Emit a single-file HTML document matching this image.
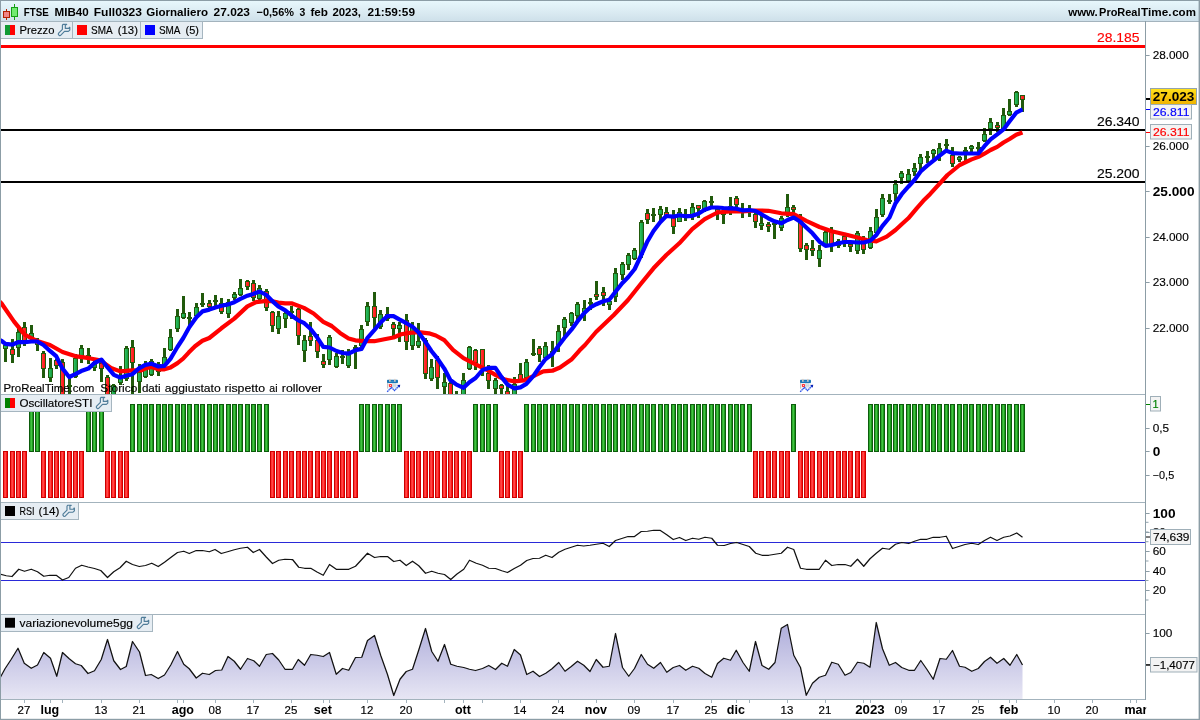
<!DOCTYPE html>
<html><head><meta charset="utf-8"><title>FTSE MIB40</title>
<style>html,body{margin:0;padding:0;background:#fff;width:1200px;height:720px;overflow:hidden}svg{display:block;will-change:transform}</style>
</head><body>
<svg width="1200" height="720" viewBox="0 0 1200 720" font-family='"Liberation Sans", sans-serif' shape-rendering="auto">
<defs>
<linearGradient id="gt" x1="0" y1="0" x2="0" y2="1"><stop offset="0" stop-color="#e8f8fd"/><stop offset="0.5" stop-color="#dcecf3"/><stop offset="1" stop-color="#cddfe9"/></linearGradient>
<linearGradient id="gv" gradientUnits="userSpaceOnUse" x1="0" y1="622" x2="0" y2="699"><stop offset="0" stop-color="#adacda"/><stop offset="1" stop-color="#e7e6f4"/></linearGradient>
<linearGradient id="gg" x1="0" y1="0" x2="1" y2="0"><stop offset="0" stop-color="#2fc261"/><stop offset="1" stop-color="#129a3e"/></linearGradient>
<linearGradient id="gr" x1="0" y1="0" x2="1" y2="0"><stop offset="0" stop-color="#ff3a3a"/><stop offset="1" stop-color="#ff1010"/></linearGradient>
<linearGradient id="og" x1="0" y1="0" x2="1" y2="0"><stop offset="0" stop-color="#2aa52a"/><stop offset="0.35" stop-color="#3bbb3b"/><stop offset="1" stop-color="#189418"/></linearGradient>
<linearGradient id="or" x1="0" y1="0" x2="1" y2="0"><stop offset="0" stop-color="#ff2020"/><stop offset="0.4" stop-color="#ff4040"/><stop offset="1" stop-color="#ff0808"/></linearGradient>
<linearGradient id="gy" x1="0" y1="0" x2="0" y2="1"><stop offset="0" stop-color="#ffe21c"/><stop offset="0.5" stop-color="#f8c80c"/><stop offset="1" stop-color="#eeb200"/></linearGradient>
<clipPath id="cp"><rect x="1" y="22" width="1144" height="372"/></clipPath>
<clipPath id="cx"><rect x="1" y="699" width="1145.2" height="20"/></clipPath>
</defs>
<rect x="0" y="0" width="1200" height="720" fill="#fff"/>
<rect x="0" y="0" width="1200" height="22" fill="url(#gt)"/>
<rect x="0" y="21" width="1200" height="1" fill="#a3b3bd"/>
<rect x="6" y="9" width="1" height="11" fill="#b22000"/>
<rect x="3.5" y="11.5" width="6" height="6" fill="#f08585" stroke="#b22000" stroke-width="1"/>
<rect x="14" y="4" width="1" height="16" fill="#14a014"/>
<rect x="11.5" y="7.5" width="6" height="9" fill="#72ea72" stroke="#14a014" stroke-width="1"/>
<text x="23.75" y="15.7" font-size="11" font-weight="bold" fill="#000" text-anchor="start" textLength="25" lengthAdjust="spacingAndGlyphs">FTSE</text>
<text x="54.5" y="15.7" font-size="11" font-weight="bold" fill="#000" text-anchor="start" textLength="34.25" lengthAdjust="spacingAndGlyphs">MIB40</text>
<text x="93.75" y="15.7" font-size="11" font-weight="bold" fill="#000" text-anchor="start" textLength="48.25" lengthAdjust="spacingAndGlyphs">Full0323</text>
<text x="146.25" y="15.7" font-size="11" font-weight="bold" fill="#000" text-anchor="start" textLength="61.75" lengthAdjust="spacingAndGlyphs">Giornaliero</text>
<text x="213.6" y="15.7" font-size="11" font-weight="bold" fill="#000" text-anchor="start" textLength="36.4" lengthAdjust="spacingAndGlyphs">27.023</text>
<text x="256.6" y="15.7" font-size="11" font-weight="bold" fill="#000" text-anchor="start" textLength="37.4" lengthAdjust="spacingAndGlyphs">−0,56%</text>
<text x="299.6" y="15.7" font-size="11" font-weight="bold" fill="#000" text-anchor="start" textLength="5.8" lengthAdjust="spacingAndGlyphs">3</text>
<text x="310.4" y="15.7" font-size="11" font-weight="bold" fill="#000" text-anchor="start" textLength="17.6" lengthAdjust="spacingAndGlyphs">feb</text>
<text x="332.4" y="15.7" font-size="11" font-weight="bold" fill="#000" text-anchor="start" textLength="28.6" lengthAdjust="spacingAndGlyphs">2023,</text>
<text x="367.6" y="15.7" font-size="11" font-weight="bold" fill="#000" text-anchor="start" textLength="47.4" lengthAdjust="spacingAndGlyphs">21:59:59</text>
<text x="1068.2" y="15.7" font-size="11" font-weight="bold" fill="#000" text-anchor="start" textLength="29.6" lengthAdjust="spacingAndGlyphs">www.</text>
<text x="1099.1" y="15.7" font-size="11" font-weight="bold" fill="#000" text-anchor="start" textLength="41.4" lengthAdjust="spacingAndGlyphs">ProReal</text>
<text x="1141.1" y="15.7" font-size="11" font-weight="bold" fill="#000" text-anchor="start" textLength="30.4" lengthAdjust="spacingAndGlyphs">Time.</text>
<text x="1172.2" y="15.7" font-size="11" font-weight="bold" fill="#000" text-anchor="start" textLength="23.7" lengthAdjust="spacingAndGlyphs">com</text>
<g clip-path="url(#cp)">
<rect x="4" y="342" width="3" height="20" fill="#215a0c"/>
<rect x="3" y="345" width="5" height="4" fill="#215a0c"/>
<rect x="4" y="346" width="3" height="2" fill="url(#gg)"/>
<rect x="11" y="339" width="3" height="24" fill="#215a0c"/>
<rect x="10" y="349" width="5" height="6" fill="#215a0c"/>
<rect x="11" y="350" width="3" height="4" fill="url(#gr)"/>
<rect x="17" y="328" width="3" height="29" fill="#215a0c"/>
<rect x="16" y="332" width="5" height="16" fill="#215a0c"/>
<rect x="17" y="333" width="3" height="14" fill="url(#gg)"/>
<rect x="23" y="322" width="3" height="24" fill="#215a0c"/>
<rect x="22" y="327" width="5" height="14" fill="#215a0c"/>
<rect x="23" y="328" width="3" height="12" fill="url(#gr)"/>
<rect x="30" y="325" width="3" height="18" fill="#215a0c"/>
<rect x="29" y="333" width="5" height="6" fill="#215a0c"/>
<rect x="30" y="334" width="3" height="4" fill="url(#gg)"/>
<rect x="36" y="338" width="3" height="13" fill="#215a0c"/>
<rect x="35" y="341" width="5" height="4" fill="#215a0c"/>
<rect x="36" y="342" width="3" height="2" fill="url(#gr)"/>
<rect x="42" y="351" width="3" height="27" fill="#215a0c"/>
<rect x="41" y="353" width="5" height="16" fill="#215a0c"/>
<rect x="42" y="354" width="3" height="14" fill="url(#gr)"/>
<rect x="49" y="358" width="3" height="24" fill="#215a0c"/>
<rect x="48" y="368" width="5" height="10" fill="#215a0c"/>
<rect x="49" y="369" width="3" height="8" fill="url(#gg)"/>
<rect x="55" y="359" width="3" height="10" fill="#215a0c"/>
<rect x="54" y="360" width="5" height="6" fill="#215a0c"/>
<rect x="55" y="361" width="3" height="4" fill="url(#gr)"/>
<rect x="61" y="359" width="3" height="39" fill="#215a0c"/>
<rect x="60" y="362" width="5" height="35" fill="#215a0c"/>
<rect x="61" y="363" width="3" height="33" fill="url(#gr)"/>
<rect x="68" y="377" width="3" height="21" fill="#215a0c"/>
<rect x="67" y="385" width="5" height="2" fill="#215a0c"/>
<rect x="74" y="354" width="3" height="24" fill="#215a0c"/>
<rect x="73" y="358" width="5" height="19" fill="#215a0c"/>
<rect x="74" y="359" width="3" height="17" fill="url(#gg)"/>
<rect x="80" y="345" width="3" height="18" fill="#215a0c"/>
<rect x="79" y="348" width="5" height="8" fill="#215a0c"/>
<rect x="80" y="349" width="3" height="6" fill="url(#gg)"/>
<rect x="87" y="348" width="3" height="16" fill="#215a0c"/>
<rect x="86" y="355" width="5" height="2" fill="#215a0c"/>
<rect x="93" y="360" width="3" height="11" fill="#215a0c"/>
<rect x="92" y="362" width="5" height="6" fill="#215a0c"/>
<rect x="93" y="363" width="3" height="4" fill="url(#gg)"/>
<rect x="100" y="360" width="3" height="22" fill="#215a0c"/>
<rect x="99" y="363" width="5" height="6" fill="#215a0c"/>
<rect x="100" y="364" width="3" height="4" fill="url(#gr)"/>
<rect x="106" y="375" width="3" height="23" fill="#215a0c"/>
<rect x="105" y="377" width="5" height="20" fill="#215a0c"/>
<rect x="106" y="378" width="3" height="18" fill="url(#gr)"/>
<rect x="112" y="384" width="3" height="14" fill="#215a0c"/>
<rect x="111" y="385" width="5" height="12" fill="#215a0c"/>
<rect x="112" y="386" width="3" height="10" fill="url(#gg)"/>
<rect x="119" y="366" width="3" height="19" fill="#215a0c"/>
<rect x="118" y="377" width="5" height="6" fill="#215a0c"/>
<rect x="119" y="378" width="3" height="4" fill="url(#gg)"/>
<rect x="125" y="346" width="3" height="35" fill="#215a0c"/>
<rect x="124" y="348" width="5" height="31" fill="#215a0c"/>
<rect x="125" y="349" width="3" height="29" fill="url(#gg)"/>
<rect x="131" y="340" width="3" height="54" fill="#215a0c"/>
<rect x="130" y="347" width="5" height="16" fill="#215a0c"/>
<rect x="131" y="348" width="3" height="14" fill="url(#gr)"/>
<rect x="138" y="364" width="3" height="29" fill="#215a0c"/>
<rect x="137" y="372" width="5" height="10" fill="#215a0c"/>
<rect x="138" y="373" width="3" height="8" fill="url(#gg)"/>
<rect x="144" y="361" width="3" height="17" fill="#215a0c"/>
<rect x="143" y="368" width="5" height="9" fill="#215a0c"/>
<rect x="144" y="369" width="3" height="7" fill="url(#gg)"/>
<rect x="150" y="359" width="3" height="17" fill="#215a0c"/>
<rect x="149" y="361" width="5" height="14" fill="#215a0c"/>
<rect x="150" y="362" width="3" height="12" fill="url(#gg)"/>
<rect x="157" y="362" width="3" height="14" fill="#215a0c"/>
<rect x="156" y="364" width="5" height="8" fill="#215a0c"/>
<rect x="157" y="365" width="3" height="6" fill="url(#gg)"/>
<rect x="163" y="348" width="3" height="19" fill="#215a0c"/>
<rect x="162" y="357" width="5" height="9" fill="#215a0c"/>
<rect x="163" y="358" width="3" height="7" fill="url(#gg)"/>
<rect x="169" y="329" width="3" height="22" fill="#215a0c"/>
<rect x="168" y="337" width="5" height="13" fill="#215a0c"/>
<rect x="169" y="338" width="3" height="11" fill="url(#gg)"/>
<rect x="176" y="309" width="3" height="23" fill="#215a0c"/>
<rect x="175" y="316" width="5" height="13" fill="#215a0c"/>
<rect x="176" y="317" width="3" height="11" fill="url(#gg)"/>
<rect x="182" y="296" width="3" height="23" fill="#215a0c"/>
<rect x="181" y="313" width="5" height="5" fill="#215a0c"/>
<rect x="182" y="314" width="3" height="3" fill="url(#gg)"/>
<rect x="188" y="312" width="3" height="14" fill="#215a0c"/>
<rect x="187" y="317" width="5" height="2" fill="#215a0c"/>
<rect x="195" y="303" width="3" height="14" fill="#215a0c"/>
<rect x="194" y="307" width="5" height="9" fill="#215a0c"/>
<rect x="195" y="308" width="3" height="7" fill="url(#gg)"/>
<rect x="201" y="293" width="3" height="14" fill="#215a0c"/>
<rect x="200" y="303" width="5" height="2" fill="#215a0c"/>
<rect x="208" y="300" width="3" height="8" fill="#215a0c"/>
<rect x="207" y="303" width="5" height="4" fill="#215a0c"/>
<rect x="208" y="304" width="3" height="2" fill="url(#gr)"/>
<rect x="214" y="295" width="3" height="11" fill="#215a0c"/>
<rect x="213" y="300" width="5" height="2" fill="#215a0c"/>
<rect x="220" y="298" width="3" height="16" fill="#215a0c"/>
<rect x="219" y="303" width="5" height="9" fill="#215a0c"/>
<rect x="220" y="304" width="3" height="7" fill="url(#gr)"/>
<rect x="227" y="299" width="3" height="19" fill="#215a0c"/>
<rect x="226" y="302" width="5" height="12" fill="#215a0c"/>
<rect x="227" y="303" width="3" height="10" fill="url(#gg)"/>
<rect x="233" y="292" width="3" height="8" fill="#215a0c"/>
<rect x="232" y="294" width="5" height="4" fill="#215a0c"/>
<rect x="233" y="295" width="3" height="2" fill="url(#gg)"/>
<rect x="239" y="279" width="3" height="17" fill="#215a0c"/>
<rect x="238" y="288" width="5" height="7" fill="#215a0c"/>
<rect x="239" y="289" width="3" height="5" fill="url(#gg)"/>
<rect x="246" y="280" width="3" height="10" fill="#215a0c"/>
<rect x="245" y="281" width="5" height="6" fill="#215a0c"/>
<rect x="246" y="282" width="3" height="4" fill="url(#gr)"/>
<rect x="252" y="280" width="3" height="21" fill="#215a0c"/>
<rect x="251" y="283" width="5" height="15" fill="#215a0c"/>
<rect x="252" y="284" width="3" height="13" fill="url(#gr)"/>
<rect x="258" y="285" width="3" height="15" fill="#215a0c"/>
<rect x="257" y="288" width="5" height="11" fill="#215a0c"/>
<rect x="258" y="289" width="3" height="9" fill="url(#gg)"/>
<rect x="265" y="289" width="3" height="22" fill="#215a0c"/>
<rect x="264" y="291" width="5" height="17" fill="#215a0c"/>
<rect x="265" y="292" width="3" height="15" fill="url(#gr)"/>
<rect x="271" y="311" width="3" height="21" fill="#215a0c"/>
<rect x="270" y="312" width="5" height="14" fill="#215a0c"/>
<rect x="271" y="313" width="3" height="12" fill="url(#gr)"/>
<rect x="277" y="311" width="3" height="23" fill="#215a0c"/>
<rect x="276" y="316" width="5" height="13" fill="#215a0c"/>
<rect x="277" y="317" width="3" height="11" fill="url(#gg)"/>
<rect x="284" y="312" width="3" height="16" fill="#215a0c"/>
<rect x="283" y="313" width="5" height="6" fill="#215a0c"/>
<rect x="284" y="314" width="3" height="4" fill="url(#gg)"/>
<rect x="290" y="306" width="3" height="13" fill="#215a0c"/>
<rect x="289" y="311" width="5" height="2" fill="#215a0c"/>
<rect x="297" y="308" width="3" height="37" fill="#215a0c"/>
<rect x="296" y="309" width="5" height="27" fill="#215a0c"/>
<rect x="297" y="310" width="3" height="25" fill="url(#gr)"/>
<rect x="303" y="335" width="3" height="27" fill="#215a0c"/>
<rect x="302" y="340" width="5" height="11" fill="#215a0c"/>
<rect x="303" y="341" width="3" height="9" fill="url(#gg)"/>
<rect x="309" y="322" width="3" height="24" fill="#215a0c"/>
<rect x="308" y="336" width="5" height="5" fill="#215a0c"/>
<rect x="309" y="337" width="3" height="3" fill="url(#gr)"/>
<rect x="316" y="334" width="3" height="24" fill="#215a0c"/>
<rect x="315" y="340" width="5" height="12" fill="#215a0c"/>
<rect x="316" y="341" width="3" height="10" fill="url(#gr)"/>
<rect x="322" y="354" width="3" height="14" fill="#215a0c"/>
<rect x="321" y="361" width="5" height="4" fill="#215a0c"/>
<rect x="322" y="362" width="3" height="2" fill="url(#gr)"/>
<rect x="328" y="335" width="3" height="30" fill="#215a0c"/>
<rect x="327" y="337" width="5" height="23" fill="#215a0c"/>
<rect x="328" y="338" width="3" height="21" fill="url(#gg)"/>
<rect x="335" y="353" width="3" height="15" fill="#215a0c"/>
<rect x="334" y="356" width="5" height="11" fill="#215a0c"/>
<rect x="335" y="357" width="3" height="9" fill="url(#gg)"/>
<rect x="341" y="350" width="3" height="14" fill="#215a0c"/>
<rect x="340" y="356" width="5" height="2" fill="#215a0c"/>
<rect x="347" y="349" width="3" height="19" fill="#215a0c"/>
<rect x="346" y="354" width="5" height="12" fill="#215a0c"/>
<rect x="347" y="355" width="3" height="10" fill="url(#gg)"/>
<rect x="354" y="345" width="3" height="24" fill="#215a0c"/>
<rect x="353" y="347" width="5" height="2" fill="#215a0c"/>
<rect x="360" y="325" width="3" height="22" fill="#215a0c"/>
<rect x="359" y="329" width="5" height="17" fill="#215a0c"/>
<rect x="360" y="330" width="3" height="15" fill="url(#gg)"/>
<rect x="366" y="302" width="3" height="24" fill="#215a0c"/>
<rect x="365" y="306" width="5" height="16" fill="#215a0c"/>
<rect x="366" y="307" width="3" height="14" fill="url(#gg)"/>
<rect x="373" y="292" width="3" height="37" fill="#215a0c"/>
<rect x="372" y="306" width="5" height="12" fill="#215a0c"/>
<rect x="373" y="307" width="3" height="10" fill="url(#gr)"/>
<rect x="379" y="310" width="3" height="19" fill="#215a0c"/>
<rect x="378" y="314" width="5" height="13" fill="#215a0c"/>
<rect x="379" y="315" width="3" height="11" fill="url(#gg)"/>
<rect x="386" y="307" width="3" height="14" fill="#215a0c"/>
<rect x="385" y="314" width="5" height="5" fill="#215a0c"/>
<rect x="386" y="315" width="3" height="3" fill="url(#gg)"/>
<rect x="392" y="322" width="3" height="14" fill="#215a0c"/>
<rect x="391" y="324" width="5" height="5" fill="#215a0c"/>
<rect x="392" y="325" width="3" height="3" fill="url(#gr)"/>
<rect x="398" y="322" width="3" height="20" fill="#215a0c"/>
<rect x="397" y="325" width="5" height="4" fill="#215a0c"/>
<rect x="398" y="326" width="3" height="2" fill="url(#gg)"/>
<rect x="405" y="314" width="3" height="36" fill="#215a0c"/>
<rect x="404" y="320" width="5" height="22" fill="#215a0c"/>
<rect x="405" y="321" width="3" height="20" fill="url(#gr)"/>
<rect x="411" y="322" width="3" height="28" fill="#215a0c"/>
<rect x="410" y="327" width="5" height="19" fill="#215a0c"/>
<rect x="411" y="328" width="3" height="17" fill="url(#gg)"/>
<rect x="417" y="323" width="3" height="25" fill="#215a0c"/>
<rect x="416" y="341" width="5" height="5" fill="#215a0c"/>
<rect x="417" y="342" width="3" height="3" fill="url(#gg)"/>
<rect x="424" y="338" width="3" height="41" fill="#215a0c"/>
<rect x="423" y="340" width="5" height="34" fill="#215a0c"/>
<rect x="424" y="341" width="3" height="32" fill="url(#gr)"/>
<rect x="430" y="359" width="3" height="22" fill="#215a0c"/>
<rect x="429" y="367" width="5" height="12" fill="#215a0c"/>
<rect x="430" y="368" width="3" height="10" fill="url(#gg)"/>
<rect x="436" y="356" width="3" height="33" fill="#215a0c"/>
<rect x="435" y="360" width="5" height="18" fill="#215a0c"/>
<rect x="436" y="361" width="3" height="16" fill="url(#gr)"/>
<rect x="443" y="373" width="3" height="23" fill="#215a0c"/>
<rect x="442" y="382" width="5" height="5" fill="#215a0c"/>
<rect x="443" y="383" width="3" height="3" fill="url(#gg)"/>
<rect x="449" y="382" width="3" height="16" fill="#215a0c"/>
<rect x="448" y="383" width="5" height="13" fill="#215a0c"/>
<rect x="449" y="384" width="3" height="11" fill="url(#gr)"/>
<rect x="455" y="391" width="3" height="7" fill="#215a0c"/>
<rect x="454" y="396" width="5" height="2" fill="#215a0c"/>
<rect x="462" y="373" width="3" height="25" fill="#215a0c"/>
<rect x="461" y="380" width="5" height="16" fill="#215a0c"/>
<rect x="462" y="381" width="3" height="14" fill="url(#gg)"/>
<rect x="468" y="346" width="3" height="24" fill="#215a0c"/>
<rect x="467" y="347" width="5" height="22" fill="#215a0c"/>
<rect x="468" y="348" width="3" height="20" fill="url(#gg)"/>
<rect x="474" y="349" width="3" height="21" fill="#215a0c"/>
<rect x="473" y="350" width="5" height="13" fill="#215a0c"/>
<rect x="474" y="351" width="3" height="11" fill="url(#gr)"/>
<rect x="481" y="349" width="3" height="27" fill="#215a0c"/>
<rect x="480" y="349" width="5" height="18" fill="#215a0c"/>
<rect x="481" y="350" width="3" height="16" fill="url(#gr)"/>
<rect x="487" y="365" width="3" height="24" fill="#215a0c"/>
<rect x="486" y="373" width="5" height="8" fill="#215a0c"/>
<rect x="487" y="374" width="3" height="6" fill="url(#gr)"/>
<rect x="494" y="378" width="3" height="18" fill="#215a0c"/>
<rect x="493" y="380" width="5" height="9" fill="#215a0c"/>
<rect x="494" y="381" width="3" height="7" fill="url(#gg)"/>
<rect x="500" y="384" width="3" height="12" fill="#215a0c"/>
<rect x="499" y="385" width="5" height="4" fill="#215a0c"/>
<rect x="500" y="386" width="3" height="2" fill="url(#gr)"/>
<rect x="506" y="386" width="3" height="12" fill="#215a0c"/>
<rect x="505" y="391" width="5" height="5" fill="#215a0c"/>
<rect x="506" y="392" width="3" height="3" fill="url(#gr)"/>
<rect x="513" y="377" width="3" height="21" fill="#215a0c"/>
<rect x="512" y="384" width="5" height="12" fill="#215a0c"/>
<rect x="513" y="385" width="3" height="10" fill="url(#gg)"/>
<rect x="519" y="363" width="3" height="19" fill="#215a0c"/>
<rect x="518" y="374" width="5" height="6" fill="#215a0c"/>
<rect x="519" y="375" width="3" height="4" fill="url(#gr)"/>
<rect x="525" y="359" width="3" height="21" fill="#215a0c"/>
<rect x="524" y="362" width="5" height="16" fill="#215a0c"/>
<rect x="525" y="363" width="3" height="14" fill="url(#gg)"/>
<rect x="532" y="339" width="3" height="17" fill="#215a0c"/>
<rect x="531" y="353" width="5" height="2" fill="#215a0c"/>
<rect x="538" y="346" width="3" height="16" fill="#215a0c"/>
<rect x="537" y="348" width="5" height="7" fill="#215a0c"/>
<rect x="538" y="349" width="3" height="5" fill="url(#gr)"/>
<rect x="544" y="342" width="3" height="16" fill="#215a0c"/>
<rect x="543" y="346" width="5" height="12" fill="#215a0c"/>
<rect x="544" y="347" width="3" height="10" fill="url(#gg)"/>
<rect x="551" y="341" width="3" height="26" fill="#215a0c"/>
<rect x="550" y="351" width="5" height="2" fill="#215a0c"/>
<rect x="557" y="325" width="3" height="27" fill="#215a0c"/>
<rect x="556" y="331" width="5" height="15" fill="#215a0c"/>
<rect x="557" y="332" width="3" height="13" fill="url(#gg)"/>
<rect x="563" y="317" width="3" height="20" fill="#215a0c"/>
<rect x="562" y="319" width="5" height="9" fill="#215a0c"/>
<rect x="563" y="320" width="3" height="7" fill="url(#gg)"/>
<rect x="570" y="312" width="3" height="14" fill="#215a0c"/>
<rect x="569" y="313" width="5" height="10" fill="#215a0c"/>
<rect x="570" y="314" width="3" height="8" fill="url(#gg)"/>
<rect x="576" y="302" width="3" height="20" fill="#215a0c"/>
<rect x="575" y="304" width="5" height="12" fill="#215a0c"/>
<rect x="576" y="305" width="3" height="10" fill="url(#gg)"/>
<rect x="583" y="300" width="3" height="21" fill="#215a0c"/>
<rect x="582" y="308" width="5" height="4" fill="#215a0c"/>
<rect x="583" y="309" width="3" height="2" fill="url(#gg)"/>
<rect x="589" y="298" width="3" height="12" fill="#215a0c"/>
<rect x="588" y="302" width="5" height="2" fill="#215a0c"/>
<rect x="595" y="281" width="3" height="19" fill="#215a0c"/>
<rect x="594" y="294" width="5" height="3" fill="#215a0c"/>
<rect x="595" y="295" width="3" height="1" fill="url(#gr)"/>
<rect x="602" y="287" width="3" height="19" fill="#215a0c"/>
<rect x="601" y="292" width="5" height="4" fill="#215a0c"/>
<rect x="602" y="293" width="3" height="2" fill="url(#gr)"/>
<rect x="608" y="299" width="3" height="11" fill="#215a0c"/>
<rect x="607" y="301" width="5" height="4" fill="#215a0c"/>
<rect x="608" y="302" width="3" height="2" fill="url(#gg)"/>
<rect x="614" y="268" width="3" height="34" fill="#215a0c"/>
<rect x="613" y="273" width="5" height="24" fill="#215a0c"/>
<rect x="614" y="274" width="3" height="22" fill="url(#gg)"/>
<rect x="621" y="262" width="3" height="18" fill="#215a0c"/>
<rect x="620" y="264" width="5" height="11" fill="#215a0c"/>
<rect x="621" y="265" width="3" height="9" fill="url(#gg)"/>
<rect x="627" y="253" width="3" height="17" fill="#215a0c"/>
<rect x="626" y="255" width="5" height="10" fill="#215a0c"/>
<rect x="627" y="256" width="3" height="8" fill="url(#gg)"/>
<rect x="633" y="248" width="3" height="12" fill="#215a0c"/>
<rect x="632" y="250" width="5" height="9" fill="#215a0c"/>
<rect x="633" y="251" width="3" height="7" fill="url(#gg)"/>
<rect x="640" y="220" width="3" height="38" fill="#215a0c"/>
<rect x="639" y="222" width="5" height="33" fill="#215a0c"/>
<rect x="640" y="223" width="3" height="31" fill="url(#gg)"/>
<rect x="646" y="209" width="3" height="15" fill="#215a0c"/>
<rect x="645" y="213" width="5" height="7" fill="#215a0c"/>
<rect x="646" y="214" width="3" height="5" fill="url(#gr)"/>
<rect x="652" y="208" width="3" height="14" fill="#215a0c"/>
<rect x="651" y="214" width="5" height="2" fill="#215a0c"/>
<rect x="659" y="206" width="3" height="15" fill="#215a0c"/>
<rect x="658" y="209" width="5" height="6" fill="#215a0c"/>
<rect x="659" y="210" width="3" height="4" fill="url(#gg)"/>
<rect x="665" y="207" width="3" height="11" fill="#215a0c"/>
<rect x="664" y="212" width="5" height="4" fill="#215a0c"/>
<rect x="665" y="213" width="3" height="2" fill="url(#gr)"/>
<rect x="672" y="210" width="3" height="24" fill="#215a0c"/>
<rect x="671" y="215" width="5" height="12" fill="#215a0c"/>
<rect x="672" y="216" width="3" height="10" fill="url(#gr)"/>
<rect x="678" y="208" width="3" height="14" fill="#215a0c"/>
<rect x="677" y="212" width="5" height="10" fill="#215a0c"/>
<rect x="678" y="213" width="3" height="8" fill="url(#gg)"/>
<rect x="684" y="209" width="3" height="12" fill="#215a0c"/>
<rect x="683" y="214" width="5" height="2" fill="#215a0c"/>
<rect x="691" y="203" width="3" height="17" fill="#215a0c"/>
<rect x="690" y="207" width="5" height="9" fill="#215a0c"/>
<rect x="691" y="208" width="3" height="7" fill="url(#gg)"/>
<rect x="697" y="205" width="3" height="13" fill="#215a0c"/>
<rect x="696" y="205" width="5" height="4" fill="#215a0c"/>
<rect x="697" y="206" width="3" height="2" fill="url(#gr)"/>
<rect x="703" y="200" width="3" height="12" fill="#215a0c"/>
<rect x="702" y="201" width="5" height="8" fill="#215a0c"/>
<rect x="703" y="202" width="3" height="6" fill="url(#gg)"/>
<rect x="710" y="196" width="3" height="12" fill="#215a0c"/>
<rect x="709" y="201" width="5" height="2" fill="#215a0c"/>
<rect x="716" y="207" width="3" height="13" fill="#215a0c"/>
<rect x="715" y="209" width="5" height="4" fill="#215a0c"/>
<rect x="716" y="210" width="3" height="2" fill="url(#gr)"/>
<rect x="722" y="207" width="3" height="17" fill="#215a0c"/>
<rect x="721" y="212" width="5" height="3" fill="#215a0c"/>
<rect x="722" y="213" width="3" height="1" fill="url(#gg)"/>
<rect x="729" y="197" width="3" height="18" fill="#215a0c"/>
<rect x="728" y="206" width="5" height="2" fill="#215a0c"/>
<rect x="735" y="196" width="3" height="11" fill="#215a0c"/>
<rect x="734" y="198" width="5" height="7" fill="#215a0c"/>
<rect x="735" y="199" width="3" height="5" fill="url(#gr)"/>
<rect x="741" y="203" width="3" height="15" fill="#215a0c"/>
<rect x="740" y="209" width="5" height="3" fill="#215a0c"/>
<rect x="741" y="210" width="3" height="1" fill="url(#gg)"/>
<rect x="748" y="205" width="3" height="12" fill="#215a0c"/>
<rect x="747" y="209" width="5" height="3" fill="#215a0c"/>
<rect x="748" y="210" width="3" height="1" fill="url(#gg)"/>
<rect x="754" y="209" width="3" height="19" fill="#215a0c"/>
<rect x="753" y="214" width="5" height="8" fill="#215a0c"/>
<rect x="754" y="215" width="3" height="6" fill="url(#gr)"/>
<rect x="760" y="216" width="3" height="14" fill="#215a0c"/>
<rect x="759" y="223" width="5" height="3" fill="#215a0c"/>
<rect x="760" y="224" width="3" height="1" fill="url(#gg)"/>
<rect x="767" y="222" width="3" height="10" fill="#215a0c"/>
<rect x="766" y="224" width="5" height="3" fill="#215a0c"/>
<rect x="767" y="225" width="3" height="1" fill="url(#gr)"/>
<rect x="773" y="222" width="3" height="17" fill="#215a0c"/>
<rect x="772" y="223" width="5" height="2" fill="#215a0c"/>
<rect x="780" y="216" width="3" height="15" fill="#215a0c"/>
<rect x="779" y="218" width="5" height="10" fill="#215a0c"/>
<rect x="780" y="219" width="3" height="8" fill="url(#gg)"/>
<rect x="786" y="194" width="3" height="23" fill="#215a0c"/>
<rect x="785" y="207" width="5" height="6" fill="#215a0c"/>
<rect x="786" y="208" width="3" height="4" fill="url(#gg)"/>
<rect x="792" y="205" width="3" height="8" fill="#215a0c"/>
<rect x="791" y="207" width="5" height="3" fill="#215a0c"/>
<rect x="792" y="208" width="3" height="1" fill="url(#gr)"/>
<rect x="799" y="214" width="3" height="38" fill="#215a0c"/>
<rect x="798" y="217" width="5" height="32" fill="#215a0c"/>
<rect x="799" y="218" width="3" height="30" fill="url(#gr)"/>
<rect x="805" y="243" width="3" height="17" fill="#215a0c"/>
<rect x="804" y="245" width="5" height="5" fill="#215a0c"/>
<rect x="805" y="246" width="3" height="3" fill="url(#gr)"/>
<rect x="811" y="240" width="3" height="16" fill="#215a0c"/>
<rect x="810" y="248" width="5" height="3" fill="#215a0c"/>
<rect x="811" y="249" width="3" height="1" fill="url(#gr)"/>
<rect x="818" y="245" width="3" height="22" fill="#215a0c"/>
<rect x="817" y="250" width="5" height="9" fill="#215a0c"/>
<rect x="818" y="251" width="3" height="7" fill="url(#gg)"/>
<rect x="824" y="231" width="3" height="16" fill="#215a0c"/>
<rect x="823" y="232" width="5" height="13" fill="#215a0c"/>
<rect x="824" y="233" width="3" height="11" fill="url(#gg)"/>
<rect x="830" y="227" width="3" height="25" fill="#215a0c"/>
<rect x="829" y="232" width="5" height="13" fill="#215a0c"/>
<rect x="830" y="233" width="3" height="11" fill="url(#gr)"/>
<rect x="837" y="239" width="3" height="9" fill="#215a0c"/>
<rect x="836" y="241" width="5" height="5" fill="#215a0c"/>
<rect x="837" y="242" width="3" height="3" fill="url(#gg)"/>
<rect x="843" y="234" width="3" height="13" fill="#215a0c"/>
<rect x="842" y="236" width="5" height="7" fill="#215a0c"/>
<rect x="843" y="237" width="3" height="5" fill="url(#gr)"/>
<rect x="849" y="242" width="3" height="10" fill="#215a0c"/>
<rect x="848" y="244" width="5" height="3" fill="#215a0c"/>
<rect x="849" y="245" width="3" height="1" fill="url(#gr)"/>
<rect x="856" y="231" width="3" height="23" fill="#215a0c"/>
<rect x="855" y="233" width="5" height="18" fill="#215a0c"/>
<rect x="856" y="234" width="3" height="16" fill="url(#gg)"/>
<rect x="862" y="236" width="3" height="18" fill="#215a0c"/>
<rect x="861" y="240" width="5" height="10" fill="#215a0c"/>
<rect x="862" y="241" width="3" height="8" fill="url(#gr)"/>
<rect x="869" y="227" width="3" height="22" fill="#215a0c"/>
<rect x="868" y="231" width="5" height="17" fill="#215a0c"/>
<rect x="869" y="232" width="3" height="15" fill="url(#gg)"/>
<rect x="875" y="209" width="3" height="26" fill="#215a0c"/>
<rect x="874" y="217" width="5" height="16" fill="#215a0c"/>
<rect x="875" y="218" width="3" height="14" fill="url(#gg)"/>
<rect x="881" y="194" width="3" height="23" fill="#215a0c"/>
<rect x="880" y="198" width="5" height="17" fill="#215a0c"/>
<rect x="881" y="199" width="3" height="15" fill="url(#gg)"/>
<rect x="888" y="194" width="3" height="10" fill="#215a0c"/>
<rect x="887" y="200" width="5" height="2" fill="#215a0c"/>
<rect x="894" y="180" width="3" height="21" fill="#215a0c"/>
<rect x="893" y="184" width="5" height="10" fill="#215a0c"/>
<rect x="894" y="185" width="3" height="8" fill="url(#gg)"/>
<rect x="900" y="171" width="3" height="13" fill="#215a0c"/>
<rect x="899" y="173" width="5" height="5" fill="#215a0c"/>
<rect x="900" y="174" width="3" height="3" fill="url(#gg)"/>
<rect x="907" y="169" width="3" height="13" fill="#215a0c"/>
<rect x="906" y="174" width="5" height="7" fill="#215a0c"/>
<rect x="907" y="175" width="3" height="5" fill="url(#gg)"/>
<rect x="913" y="163" width="3" height="13" fill="#215a0c"/>
<rect x="912" y="168" width="5" height="4" fill="#215a0c"/>
<rect x="913" y="169" width="3" height="2" fill="url(#gg)"/>
<rect x="919" y="154" width="3" height="16" fill="#215a0c"/>
<rect x="918" y="157" width="5" height="7" fill="#215a0c"/>
<rect x="919" y="158" width="3" height="5" fill="url(#gg)"/>
<rect x="926" y="151" width="3" height="12" fill="#215a0c"/>
<rect x="925" y="156" width="5" height="2" fill="#215a0c"/>
<rect x="932" y="149" width="3" height="10" fill="#215a0c"/>
<rect x="931" y="150" width="5" height="4" fill="#215a0c"/>
<rect x="932" y="151" width="3" height="2" fill="url(#gg)"/>
<rect x="938" y="143" width="3" height="18" fill="#215a0c"/>
<rect x="937" y="148" width="5" height="7" fill="#215a0c"/>
<rect x="938" y="149" width="3" height="5" fill="url(#gg)"/>
<rect x="945" y="139" width="3" height="11" fill="#215a0c"/>
<rect x="944" y="144" width="5" height="2" fill="#215a0c"/>
<rect x="951" y="147" width="3" height="20" fill="#215a0c"/>
<rect x="950" y="155" width="5" height="9" fill="#215a0c"/>
<rect x="951" y="156" width="3" height="7" fill="url(#gr)"/>
<rect x="958" y="156" width="3" height="6" fill="#215a0c"/>
<rect x="957" y="157" width="5" height="3" fill="#215a0c"/>
<rect x="958" y="158" width="3" height="1" fill="url(#gg)"/>
<rect x="964" y="147" width="3" height="14" fill="#215a0c"/>
<rect x="963" y="150" width="5" height="2" fill="#215a0c"/>
<rect x="970" y="145" width="3" height="7" fill="#215a0c"/>
<rect x="969" y="146" width="5" height="3" fill="#215a0c"/>
<rect x="970" y="147" width="3" height="1" fill="url(#gg)"/>
<rect x="977" y="142" width="3" height="10" fill="#215a0c"/>
<rect x="976" y="147" width="5" height="2" fill="#215a0c"/>
<rect x="983" y="128" width="3" height="14" fill="#215a0c"/>
<rect x="982" y="134" width="5" height="7" fill="#215a0c"/>
<rect x="983" y="135" width="3" height="5" fill="url(#gg)"/>
<rect x="989" y="118" width="3" height="17" fill="#215a0c"/>
<rect x="988" y="122" width="5" height="7" fill="#215a0c"/>
<rect x="989" y="123" width="3" height="5" fill="url(#gg)"/>
<rect x="996" y="122" width="3" height="10" fill="#215a0c"/>
<rect x="995" y="125" width="5" height="3" fill="#215a0c"/>
<rect x="996" y="126" width="3" height="1" fill="url(#gr)"/>
<rect x="1002" y="108" width="3" height="21" fill="#215a0c"/>
<rect x="1001" y="115" width="5" height="14" fill="#215a0c"/>
<rect x="1002" y="116" width="3" height="12" fill="url(#gg)"/>
<rect x="1008" y="99" width="3" height="17" fill="#215a0c"/>
<rect x="1007" y="111" width="5" height="4" fill="#215a0c"/>
<rect x="1008" y="112" width="3" height="2" fill="url(#gg)"/>
<rect x="1015" y="91" width="3" height="16" fill="#215a0c"/>
<rect x="1014" y="92" width="5" height="13" fill="#215a0c"/>
<rect x="1015" y="93" width="3" height="11" fill="url(#gg)"/>
<rect x="1021" y="95" width="3" height="17" fill="#215a0c"/>
<rect x="1020" y="95" width="5" height="5" fill="#215a0c"/>
<rect x="1021" y="96" width="3" height="3" fill="url(#gr)"/>
</g>
<rect x="1" y="181" width="1144" height="2" fill="#000"/>
<rect x="1" y="129" width="1144" height="2" fill="#000"/>
<rect x="1" y="45" width="1144" height="3" fill="#ff0000"/>
<g clip-path="url(#cp)" fill="none" stroke-linejoin="round" stroke-linecap="butt">
<polyline points="-2,300 1.4,303.3 13.9,321.4 24.6,334.6 37.2,341.1 50,345 62.5,352 75,356.1 88.9,358.2 100,360.3 111,368 120.3,371.4 132,370.3 141.2,370.4 145.4,368.5 151.4,367 158.4,369.3 164.4,369.3 170.6,367.4 177.5,363.1 183.1,358.7 188.7,352.6 195,346.3 202.4,340.8 209.3,338 221.4,328.3 234.3,318.6 247.4,306.4 256.1,302.2 264.4,301.2 272.4,301.2 278.3,302.6 285.3,303.3 291.5,303.3 303.9,307.9 313.6,313.5 323.3,321.8 331.7,326 340,332.9 348.6,338.5 355.3,340.3 363.6,341.2 374.3,341.2 384.4,339.2 393.5,337.5 401.1,334.3 409.4,332.9 418.5,332.2 428.9,333.3 435.8,335.5 444.3,340.1 453,349.9 463.5,358.2 475.6,364.4 488.5,370.7 495.4,374.9 504.4,379.4 514.4,381.4 523.9,380.4 533.3,376.2 543.3,371.4 552.4,370.7 560,367.5 571.4,359.6 579.4,350.6 585,345 596,332 613.8,315 628,300 641.3,283.3 653.5,268.3 666.3,255 679.3,243.3 692.2,229.2 704.7,219.2 717.5,212.5 730.2,211.3 742.5,211.3 755.5,210.5 768.3,210.8 781.3,213.3 793.7,214.2 806.3,220.8 819.5,227 831.7,231.3 844.5,234.2 857.5,237.5 866.7,240 876.3,241.3 886.7,236.7 895.5,230 901.7,224.2 908.3,218.3 916.7,208.3 923.3,200.8 930,194.2 947.5,175 959.7,165 971.6,159.4 978.5,156.9 984.4,153.7 990.6,150 997.2,146.9 1003.5,142.5 1009.6,139 1016.2,134.7 1022.5,132.5" stroke="#ff0000" stroke-width="4.2"/>
<polyline points="-2,339 1.4,340.8 5.5,343.9 12.5,344.7 18.5,342 24.6,342.2 31.5,341.5 37.2,341.5 43.5,345 50.3,351.2 56.2,356.1 62.5,368.6 69.2,377 75.4,374.2 81.2,371.1 88.3,368.6 94.4,363 101.4,359.6 107.4,367.2 113.9,374.9 120.3,377.6 126.4,375.8 132.4,374.2 139.3,368.2 145.4,364.9 151.5,363.7 158.5,366.5 164.4,365.8 170.4,358.9 177.4,347 183.3,338 189.4,327 196.4,317.2 202.4,311.4 209.3,309.6 215.4,307.5 221.4,305.8 228.3,304.4 234.3,302.2 240.4,298.9 247.4,295.7 253.3,293.9 259.6,291.5 266.4,295 272.4,301.2 278.3,306.4 285.3,310.3 291.5,315.5 298.3,320.4 304.3,323.2 310.4,328.7 317.4,337.8 323.3,346.8 329.6,347.5 336.5,351 342.5,353 348.6,353.7 355.3,350.3 361.5,348.9 367.5,337.8 374.3,330.1 380.6,322.5 387.2,316.2 393.5,316.2 399.7,319.7 406.4,323.2 412.5,326.7 418.5,332.2 425.4,341.9 431.4,351 437.5,358.6 444.3,368.6 450.3,380 456.5,384.6 463.5,387.8 469.4,382.2 475.6,378 482.5,370 488.5,367.9 495.4,367.9 501.4,376.9 507.5,384.6 514.4,388.3 520.4,387.4 526.4,383.9 533.3,376.2 539.4,367.2 545.4,359.2 552.4,354 558.3,346.1 564.4,338 571.4,329.7 577.4,321.4 583.6,313.7 590.2,307.5 596.3,304.2 603.3,301.3 609.3,299.7 615.5,291.7 622.2,283.3 628.3,277 634.7,269 641.3,254.8 647.5,241.2 653.5,231 660.2,222.2 666.3,216 673.3,216.7 679.3,215.3 685.5,216.3 692.2,215.8 698.3,213.7 704.7,209.7 711.3,207.5 717.5,207.5 723.5,208 730.2,208.3 736.3,208.7 742.5,210.3 749.3,210 755.5,211 761.3,214.2 768.3,218.3 774.5,221.3 781.3,223.3 787.5,220 793.7,217.5 800.3,221.7 806.3,227.5 812.5,233.3 819.5,241.7 825.5,245.8 831.7,245 838.3,243.3 844.5,242 850.5,242 857.5,242.5 863.7,242.5 870.3,240.8 876.3,235 882.5,225.8 889.5,217.5 895.5,203.3 901.7,194.2 908.3,186.7 914.5,180 920.6,171.5 927.2,165.6 933.5,160.6 939.7,155.6 946.2,150.6 952.5,153.1 959.7,153.5 965.4,153.5 971.6,153.5 978.5,153.5 984.4,146.2 990.6,139.4 997.2,134.4 1003.5,129.4 1009.6,121.2 1016.2,112.7 1022.5,109.4" stroke="#0000ff" stroke-width="4.2"/>
</g>
<text x="3.4" y="391.8" font-size="11" font-weight="normal" fill="#000" text-anchor="start" textLength="91" lengthAdjust="spacingAndGlyphs" stroke="#000" stroke-width="0.15">ProRealTime.com</text>
<text x="100.3" y="391.8" font-size="11" font-weight="normal" fill="#000" text-anchor="start" textLength="37" lengthAdjust="spacingAndGlyphs" stroke="#000" stroke-width="0.15">Storico</text>
<text x="141.9" y="391.8" font-size="11" font-weight="normal" fill="#000" text-anchor="start" textLength="18.7" lengthAdjust="spacingAndGlyphs" stroke="#000" stroke-width="0.15">dati</text>
<text x="164.7" y="391.8" font-size="11" font-weight="normal" fill="#000" text-anchor="start" textLength="56" lengthAdjust="spacingAndGlyphs" stroke="#000" stroke-width="0.15">aggiustato</text>
<text x="224.6" y="391.8" font-size="11" font-weight="normal" fill="#000" text-anchor="start" textLength="40.4" lengthAdjust="spacingAndGlyphs" stroke="#000" stroke-width="0.15">rispetto</text>
<text x="269.3" y="391.8" font-size="11" font-weight="normal" fill="#000" text-anchor="start" textLength="8.2" lengthAdjust="spacingAndGlyphs" stroke="#000" stroke-width="0.15">ai</text>
<text x="281.8" y="391.8" font-size="11" font-weight="normal" fill="#000" text-anchor="start" textLength="40.4" lengthAdjust="spacingAndGlyphs" stroke="#000" stroke-width="0.15">rollover</text>
<text x="1139.5" y="41.7" font-size="13.5" font-weight="normal" fill="#ff0000" text-anchor="end" textLength="42.6" lengthAdjust="spacingAndGlyphs" stroke="#ff0000" stroke-width="0.15">28.185</text>
<text x="1139.5" y="125.8" font-size="13.5" font-weight="normal" fill="#000" text-anchor="end" textLength="42.6" lengthAdjust="spacingAndGlyphs" stroke="#000" stroke-width="0.15">26.340</text>
<text x="1139.5" y="177.8" font-size="13.5" font-weight="normal" fill="#000" text-anchor="end" textLength="42.6" lengthAdjust="spacingAndGlyphs" stroke="#000" stroke-width="0.15">25.200</text>
<rect x="387.2" y="380" width="10.6" height="8.6" fill="#e9eff3"/>
<rect x="387" y="380.2" width="0.7" height="8.4" fill="#b4b4b4"/>
<rect x="392" y="383.2" width="4.5" height="4" fill="#c3d3dc"/>
<rect x="388.5" y="383.7" width="0.9" height="0.9" fill="#fff"/>
<rect x="388.5" y="385.7" width="0.9" height="0.9" fill="#fff"/>
<rect x="388.5" y="387.7" width="0.9" height="0.9" fill="#fff"/>
<rect x="390.5" y="383.7" width="0.9" height="0.9" fill="#fff"/>
<rect x="390.5" y="385.7" width="0.9" height="0.9" fill="#fff"/>
<rect x="390.5" y="387.7" width="0.9" height="0.9" fill="#fff"/>
<rect x="392.5" y="383.7" width="0.9" height="0.9" fill="#fff"/>
<rect x="392.5" y="385.7" width="0.9" height="0.9" fill="#fff"/>
<rect x="392.5" y="387.7" width="0.9" height="0.9" fill="#fff"/>
<rect x="394.5" y="383.7" width="0.9" height="0.9" fill="#fff"/>
<rect x="394.5" y="385.7" width="0.9" height="0.9" fill="#fff"/>
<rect x="394.5" y="387.7" width="0.9" height="0.9" fill="#fff"/>
<rect x="396.3" y="383.7" width="0.9" height="0.9" fill="#fff"/>
<rect x="396.3" y="385.7" width="0.9" height="0.9" fill="#fff"/>
<rect x="396.3" y="387.7" width="0.9" height="0.9" fill="#fff"/>
<rect x="387" y="379.8" width="11" height="3.2" rx="0.8" fill="#1a76b6"/>
<rect x="389" y="381" width="7" height="0.8" fill="#3a93cc"/>
<rect x="389.1" y="378.9" width="1.5" height="2.8" fill="#dccdc2"/>
<rect x="394.1" y="378.9" width="1.5" height="2.8" fill="#dccdc2"/>
<rect x="388.9" y="383.9" width="3.1" height="3.1" rx="0.7" fill="#ff3535"/>
<rect x="390.1" y="385" width="0.9" height="0.9" fill="#fff"/>
<polyline points="387.2,391.7 391.5,387.5 394.5,390.5 399.2,385.8" fill="none" stroke="#2a52ea" stroke-width="1.35" stroke-dasharray="1.5 0.4"/>
<path d="M400.2 384.8 l-3 0.3 l2.6 2.6 z" fill="#0a22b4"/>
<rect x="800.2" y="380" width="10.6" height="8.6" fill="#e9eff3"/>
<rect x="800" y="380.2" width="0.7" height="8.4" fill="#b4b4b4"/>
<rect x="805" y="383.2" width="4.5" height="4" fill="#c3d3dc"/>
<rect x="801.5" y="383.7" width="0.9" height="0.9" fill="#fff"/>
<rect x="801.5" y="385.7" width="0.9" height="0.9" fill="#fff"/>
<rect x="801.5" y="387.7" width="0.9" height="0.9" fill="#fff"/>
<rect x="803.5" y="383.7" width="0.9" height="0.9" fill="#fff"/>
<rect x="803.5" y="385.7" width="0.9" height="0.9" fill="#fff"/>
<rect x="803.5" y="387.7" width="0.9" height="0.9" fill="#fff"/>
<rect x="805.5" y="383.7" width="0.9" height="0.9" fill="#fff"/>
<rect x="805.5" y="385.7" width="0.9" height="0.9" fill="#fff"/>
<rect x="805.5" y="387.7" width="0.9" height="0.9" fill="#fff"/>
<rect x="807.5" y="383.7" width="0.9" height="0.9" fill="#fff"/>
<rect x="807.5" y="385.7" width="0.9" height="0.9" fill="#fff"/>
<rect x="807.5" y="387.7" width="0.9" height="0.9" fill="#fff"/>
<rect x="809.3" y="383.7" width="0.9" height="0.9" fill="#fff"/>
<rect x="809.3" y="385.7" width="0.9" height="0.9" fill="#fff"/>
<rect x="809.3" y="387.7" width="0.9" height="0.9" fill="#fff"/>
<rect x="800" y="379.8" width="11" height="3.2" rx="0.8" fill="#1a76b6"/>
<rect x="802" y="381" width="7" height="0.8" fill="#3a93cc"/>
<rect x="802.1" y="378.9" width="1.5" height="2.8" fill="#dccdc2"/>
<rect x="807.1" y="378.9" width="1.5" height="2.8" fill="#dccdc2"/>
<rect x="801.9" y="383.9" width="3.1" height="3.1" rx="0.7" fill="#ff3535"/>
<rect x="803.1" y="385" width="0.9" height="0.9" fill="#fff"/>
<polyline points="800.2,391.7 804.5,387.5 807.5,390.5 812.2,385.8" fill="none" stroke="#2a52ea" stroke-width="1.35" stroke-dasharray="1.5 0.4"/>
<path d="M813.2 384.8 l-3 0.3 l2.6 2.6 z" fill="#0a22b4"/>
<rect x="0.5" y="21.5" width="72" height="17" fill="#e6edf3" stroke="#a6b6c0" stroke-width="1"/>
<rect x="5" y="25" width="5" height="10" fill="#0e9a33"/><rect x="10" y="25" width="5" height="10" fill="#ff0000"/>
<text x="19.4" y="34.3" font-size="11.5" font-weight="normal" fill="#000" text-anchor="start" textLength="35" lengthAdjust="spacingAndGlyphs" stroke="#000" stroke-width="0.15">Prezzo</text>
<path d="M63 24.4 L66.7 24.4 L65.3 25.1 L65.3 28.4 L69.1 28.4 L69.3 27.3 L69.8 27.3 L69.8 30.1 L68.4 31.4 L64.5 31.4 L60.6 35.4 L59.5 35.7 L58.4 34.6 L58.4 33.4 L62.4 29.4 L62.4 25.4 Z" fill="none" stroke="#4f7c99" stroke-width="1.15" stroke-linejoin="round"/>
<rect x="72.5" y="21.5" width="68" height="17" fill="#e6edf3" stroke="#a6b6c0" stroke-width="1"/>
<rect x="77" y="25" width="10" height="10" fill="#ff0000"/>
<text x="91" y="34.3" font-size="11.5" font-weight="normal" fill="#000" text-anchor="start" textLength="21.6" lengthAdjust="spacingAndGlyphs" stroke="#000" stroke-width="0.15">SMA</text>
<text x="117.8" y="34.3" font-size="11.5" font-weight="normal" fill="#000" text-anchor="start" textLength="20.1" lengthAdjust="spacingAndGlyphs" stroke="#000" stroke-width="0.15">(13)</text>
<rect x="140.5" y="21.5" width="62" height="17" fill="#e6edf3" stroke="#a6b6c0" stroke-width="1"/>
<rect x="145" y="25" width="10" height="10" fill="#0000ff"/>
<text x="158.9" y="34.3" font-size="11.5" font-weight="normal" fill="#000" text-anchor="start" textLength="21.6" lengthAdjust="spacingAndGlyphs" stroke="#000" stroke-width="0.15">SMA</text>
<text x="185.5" y="34.3" font-size="11.5" font-weight="normal" fill="#000" text-anchor="start" textLength="13.4" lengthAdjust="spacingAndGlyphs" stroke="#000" stroke-width="0.15">(5)</text>
<rect x="0" y="394" width="1146" height="1" fill="#a3b3bd"/>
<rect x="3" y="451" width="5" height="47" fill="#cc0000"/>
<rect x="4" y="452" width="1" height="45" fill="#ff3636"/>
<rect x="5" y="452" width="1" height="45" fill="#ff4848"/>
<rect x="6" y="452" width="1" height="45" fill="#ff1818"/>
<rect x="10" y="451" width="5" height="47" fill="#cc0000"/>
<rect x="11" y="452" width="1" height="45" fill="#ff3636"/>
<rect x="12" y="452" width="1" height="45" fill="#ff4848"/>
<rect x="13" y="452" width="1" height="45" fill="#ff1818"/>
<rect x="16" y="451" width="5" height="47" fill="#cc0000"/>
<rect x="17" y="452" width="1" height="45" fill="#ff3636"/>
<rect x="18" y="452" width="1" height="45" fill="#ff4848"/>
<rect x="19" y="452" width="1" height="45" fill="#ff1818"/>
<rect x="22" y="451" width="5" height="47" fill="#cc0000"/>
<rect x="23" y="452" width="1" height="45" fill="#ff3636"/>
<rect x="24" y="452" width="1" height="45" fill="#ff4848"/>
<rect x="25" y="452" width="1" height="45" fill="#ff1818"/>
<rect x="29" y="404" width="5" height="48" fill="#0c5c0c"/>
<rect x="30" y="405" width="1" height="46" fill="#2fab2f"/>
<rect x="31" y="405" width="1" height="46" fill="#40c440"/>
<rect x="32" y="405" width="1" height="46" fill="#1d991d"/>
<rect x="35" y="404" width="5" height="48" fill="#0c5c0c"/>
<rect x="36" y="405" width="1" height="46" fill="#2fab2f"/>
<rect x="37" y="405" width="1" height="46" fill="#40c440"/>
<rect x="38" y="405" width="1" height="46" fill="#1d991d"/>
<rect x="41" y="451" width="5" height="47" fill="#cc0000"/>
<rect x="42" y="452" width="1" height="45" fill="#ff3636"/>
<rect x="43" y="452" width="1" height="45" fill="#ff4848"/>
<rect x="44" y="452" width="1" height="45" fill="#ff1818"/>
<rect x="48" y="451" width="5" height="47" fill="#cc0000"/>
<rect x="49" y="452" width="1" height="45" fill="#ff3636"/>
<rect x="50" y="452" width="1" height="45" fill="#ff4848"/>
<rect x="51" y="452" width="1" height="45" fill="#ff1818"/>
<rect x="54" y="451" width="5" height="47" fill="#cc0000"/>
<rect x="55" y="452" width="1" height="45" fill="#ff3636"/>
<rect x="56" y="452" width="1" height="45" fill="#ff4848"/>
<rect x="57" y="452" width="1" height="45" fill="#ff1818"/>
<rect x="60" y="451" width="5" height="47" fill="#cc0000"/>
<rect x="61" y="452" width="1" height="45" fill="#ff3636"/>
<rect x="62" y="452" width="1" height="45" fill="#ff4848"/>
<rect x="63" y="452" width="1" height="45" fill="#ff1818"/>
<rect x="67" y="451" width="5" height="47" fill="#cc0000"/>
<rect x="68" y="452" width="1" height="45" fill="#ff3636"/>
<rect x="69" y="452" width="1" height="45" fill="#ff4848"/>
<rect x="70" y="452" width="1" height="45" fill="#ff1818"/>
<rect x="73" y="451" width="5" height="47" fill="#cc0000"/>
<rect x="74" y="452" width="1" height="45" fill="#ff3636"/>
<rect x="75" y="452" width="1" height="45" fill="#ff4848"/>
<rect x="76" y="452" width="1" height="45" fill="#ff1818"/>
<rect x="79" y="451" width="5" height="47" fill="#cc0000"/>
<rect x="80" y="452" width="1" height="45" fill="#ff3636"/>
<rect x="81" y="452" width="1" height="45" fill="#ff4848"/>
<rect x="82" y="452" width="1" height="45" fill="#ff1818"/>
<rect x="86" y="404" width="5" height="48" fill="#0c5c0c"/>
<rect x="87" y="405" width="1" height="46" fill="#2fab2f"/>
<rect x="88" y="405" width="1" height="46" fill="#40c440"/>
<rect x="89" y="405" width="1" height="46" fill="#1d991d"/>
<rect x="92" y="404" width="5" height="48" fill="#0c5c0c"/>
<rect x="93" y="405" width="1" height="46" fill="#2fab2f"/>
<rect x="94" y="405" width="1" height="46" fill="#40c440"/>
<rect x="95" y="405" width="1" height="46" fill="#1d991d"/>
<rect x="99" y="404" width="5" height="48" fill="#0c5c0c"/>
<rect x="100" y="405" width="1" height="46" fill="#2fab2f"/>
<rect x="101" y="405" width="1" height="46" fill="#40c440"/>
<rect x="102" y="405" width="1" height="46" fill="#1d991d"/>
<rect x="105" y="451" width="5" height="47" fill="#cc0000"/>
<rect x="106" y="452" width="1" height="45" fill="#ff3636"/>
<rect x="107" y="452" width="1" height="45" fill="#ff4848"/>
<rect x="108" y="452" width="1" height="45" fill="#ff1818"/>
<rect x="111" y="451" width="5" height="47" fill="#cc0000"/>
<rect x="112" y="452" width="1" height="45" fill="#ff3636"/>
<rect x="113" y="452" width="1" height="45" fill="#ff4848"/>
<rect x="114" y="452" width="1" height="45" fill="#ff1818"/>
<rect x="118" y="451" width="5" height="47" fill="#cc0000"/>
<rect x="119" y="452" width="1" height="45" fill="#ff3636"/>
<rect x="120" y="452" width="1" height="45" fill="#ff4848"/>
<rect x="121" y="452" width="1" height="45" fill="#ff1818"/>
<rect x="124" y="451" width="5" height="47" fill="#cc0000"/>
<rect x="125" y="452" width="1" height="45" fill="#ff3636"/>
<rect x="126" y="452" width="1" height="45" fill="#ff4848"/>
<rect x="127" y="452" width="1" height="45" fill="#ff1818"/>
<rect x="130" y="404" width="5" height="48" fill="#0c5c0c"/>
<rect x="131" y="405" width="1" height="46" fill="#2fab2f"/>
<rect x="132" y="405" width="1" height="46" fill="#40c440"/>
<rect x="133" y="405" width="1" height="46" fill="#1d991d"/>
<rect x="137" y="404" width="5" height="48" fill="#0c5c0c"/>
<rect x="138" y="405" width="1" height="46" fill="#2fab2f"/>
<rect x="139" y="405" width="1" height="46" fill="#40c440"/>
<rect x="140" y="405" width="1" height="46" fill="#1d991d"/>
<rect x="143" y="404" width="5" height="48" fill="#0c5c0c"/>
<rect x="144" y="405" width="1" height="46" fill="#2fab2f"/>
<rect x="145" y="405" width="1" height="46" fill="#40c440"/>
<rect x="146" y="405" width="1" height="46" fill="#1d991d"/>
<rect x="149" y="404" width="5" height="48" fill="#0c5c0c"/>
<rect x="150" y="405" width="1" height="46" fill="#2fab2f"/>
<rect x="151" y="405" width="1" height="46" fill="#40c440"/>
<rect x="152" y="405" width="1" height="46" fill="#1d991d"/>
<rect x="156" y="404" width="5" height="48" fill="#0c5c0c"/>
<rect x="157" y="405" width="1" height="46" fill="#2fab2f"/>
<rect x="158" y="405" width="1" height="46" fill="#40c440"/>
<rect x="159" y="405" width="1" height="46" fill="#1d991d"/>
<rect x="162" y="404" width="5" height="48" fill="#0c5c0c"/>
<rect x="163" y="405" width="1" height="46" fill="#2fab2f"/>
<rect x="164" y="405" width="1" height="46" fill="#40c440"/>
<rect x="165" y="405" width="1" height="46" fill="#1d991d"/>
<rect x="168" y="404" width="5" height="48" fill="#0c5c0c"/>
<rect x="169" y="405" width="1" height="46" fill="#2fab2f"/>
<rect x="170" y="405" width="1" height="46" fill="#40c440"/>
<rect x="171" y="405" width="1" height="46" fill="#1d991d"/>
<rect x="175" y="404" width="5" height="48" fill="#0c5c0c"/>
<rect x="176" y="405" width="1" height="46" fill="#2fab2f"/>
<rect x="177" y="405" width="1" height="46" fill="#40c440"/>
<rect x="178" y="405" width="1" height="46" fill="#1d991d"/>
<rect x="181" y="404" width="5" height="48" fill="#0c5c0c"/>
<rect x="182" y="405" width="1" height="46" fill="#2fab2f"/>
<rect x="183" y="405" width="1" height="46" fill="#40c440"/>
<rect x="184" y="405" width="1" height="46" fill="#1d991d"/>
<rect x="187" y="404" width="5" height="48" fill="#0c5c0c"/>
<rect x="188" y="405" width="1" height="46" fill="#2fab2f"/>
<rect x="189" y="405" width="1" height="46" fill="#40c440"/>
<rect x="190" y="405" width="1" height="46" fill="#1d991d"/>
<rect x="194" y="404" width="5" height="48" fill="#0c5c0c"/>
<rect x="195" y="405" width="1" height="46" fill="#2fab2f"/>
<rect x="196" y="405" width="1" height="46" fill="#40c440"/>
<rect x="197" y="405" width="1" height="46" fill="#1d991d"/>
<rect x="200" y="404" width="5" height="48" fill="#0c5c0c"/>
<rect x="201" y="405" width="1" height="46" fill="#2fab2f"/>
<rect x="202" y="405" width="1" height="46" fill="#40c440"/>
<rect x="203" y="405" width="1" height="46" fill="#1d991d"/>
<rect x="207" y="404" width="5" height="48" fill="#0c5c0c"/>
<rect x="208" y="405" width="1" height="46" fill="#2fab2f"/>
<rect x="209" y="405" width="1" height="46" fill="#40c440"/>
<rect x="210" y="405" width="1" height="46" fill="#1d991d"/>
<rect x="213" y="404" width="5" height="48" fill="#0c5c0c"/>
<rect x="214" y="405" width="1" height="46" fill="#2fab2f"/>
<rect x="215" y="405" width="1" height="46" fill="#40c440"/>
<rect x="216" y="405" width="1" height="46" fill="#1d991d"/>
<rect x="219" y="404" width="5" height="48" fill="#0c5c0c"/>
<rect x="220" y="405" width="1" height="46" fill="#2fab2f"/>
<rect x="221" y="405" width="1" height="46" fill="#40c440"/>
<rect x="222" y="405" width="1" height="46" fill="#1d991d"/>
<rect x="226" y="404" width="5" height="48" fill="#0c5c0c"/>
<rect x="227" y="405" width="1" height="46" fill="#2fab2f"/>
<rect x="228" y="405" width="1" height="46" fill="#40c440"/>
<rect x="229" y="405" width="1" height="46" fill="#1d991d"/>
<rect x="232" y="404" width="5" height="48" fill="#0c5c0c"/>
<rect x="233" y="405" width="1" height="46" fill="#2fab2f"/>
<rect x="234" y="405" width="1" height="46" fill="#40c440"/>
<rect x="235" y="405" width="1" height="46" fill="#1d991d"/>
<rect x="238" y="404" width="5" height="48" fill="#0c5c0c"/>
<rect x="239" y="405" width="1" height="46" fill="#2fab2f"/>
<rect x="240" y="405" width="1" height="46" fill="#40c440"/>
<rect x="241" y="405" width="1" height="46" fill="#1d991d"/>
<rect x="245" y="404" width="5" height="48" fill="#0c5c0c"/>
<rect x="246" y="405" width="1" height="46" fill="#2fab2f"/>
<rect x="247" y="405" width="1" height="46" fill="#40c440"/>
<rect x="248" y="405" width="1" height="46" fill="#1d991d"/>
<rect x="251" y="404" width="5" height="48" fill="#0c5c0c"/>
<rect x="252" y="405" width="1" height="46" fill="#2fab2f"/>
<rect x="253" y="405" width="1" height="46" fill="#40c440"/>
<rect x="254" y="405" width="1" height="46" fill="#1d991d"/>
<rect x="257" y="404" width="5" height="48" fill="#0c5c0c"/>
<rect x="258" y="405" width="1" height="46" fill="#2fab2f"/>
<rect x="259" y="405" width="1" height="46" fill="#40c440"/>
<rect x="260" y="405" width="1" height="46" fill="#1d991d"/>
<rect x="264" y="404" width="5" height="48" fill="#0c5c0c"/>
<rect x="265" y="405" width="1" height="46" fill="#2fab2f"/>
<rect x="266" y="405" width="1" height="46" fill="#40c440"/>
<rect x="267" y="405" width="1" height="46" fill="#1d991d"/>
<rect x="270" y="451" width="5" height="47" fill="#cc0000"/>
<rect x="271" y="452" width="1" height="45" fill="#ff3636"/>
<rect x="272" y="452" width="1" height="45" fill="#ff4848"/>
<rect x="273" y="452" width="1" height="45" fill="#ff1818"/>
<rect x="276" y="451" width="5" height="47" fill="#cc0000"/>
<rect x="277" y="452" width="1" height="45" fill="#ff3636"/>
<rect x="278" y="452" width="1" height="45" fill="#ff4848"/>
<rect x="279" y="452" width="1" height="45" fill="#ff1818"/>
<rect x="283" y="451" width="5" height="47" fill="#cc0000"/>
<rect x="284" y="452" width="1" height="45" fill="#ff3636"/>
<rect x="285" y="452" width="1" height="45" fill="#ff4848"/>
<rect x="286" y="452" width="1" height="45" fill="#ff1818"/>
<rect x="289" y="451" width="5" height="47" fill="#cc0000"/>
<rect x="290" y="452" width="1" height="45" fill="#ff3636"/>
<rect x="291" y="452" width="1" height="45" fill="#ff4848"/>
<rect x="292" y="452" width="1" height="45" fill="#ff1818"/>
<rect x="296" y="451" width="5" height="47" fill="#cc0000"/>
<rect x="297" y="452" width="1" height="45" fill="#ff3636"/>
<rect x="298" y="452" width="1" height="45" fill="#ff4848"/>
<rect x="299" y="452" width="1" height="45" fill="#ff1818"/>
<rect x="302" y="451" width="5" height="47" fill="#cc0000"/>
<rect x="303" y="452" width="1" height="45" fill="#ff3636"/>
<rect x="304" y="452" width="1" height="45" fill="#ff4848"/>
<rect x="305" y="452" width="1" height="45" fill="#ff1818"/>
<rect x="308" y="451" width="5" height="47" fill="#cc0000"/>
<rect x="309" y="452" width="1" height="45" fill="#ff3636"/>
<rect x="310" y="452" width="1" height="45" fill="#ff4848"/>
<rect x="311" y="452" width="1" height="45" fill="#ff1818"/>
<rect x="315" y="451" width="5" height="47" fill="#cc0000"/>
<rect x="316" y="452" width="1" height="45" fill="#ff3636"/>
<rect x="317" y="452" width="1" height="45" fill="#ff4848"/>
<rect x="318" y="452" width="1" height="45" fill="#ff1818"/>
<rect x="321" y="451" width="5" height="47" fill="#cc0000"/>
<rect x="322" y="452" width="1" height="45" fill="#ff3636"/>
<rect x="323" y="452" width="1" height="45" fill="#ff4848"/>
<rect x="324" y="452" width="1" height="45" fill="#ff1818"/>
<rect x="327" y="451" width="5" height="47" fill="#cc0000"/>
<rect x="328" y="452" width="1" height="45" fill="#ff3636"/>
<rect x="329" y="452" width="1" height="45" fill="#ff4848"/>
<rect x="330" y="452" width="1" height="45" fill="#ff1818"/>
<rect x="334" y="451" width="5" height="47" fill="#cc0000"/>
<rect x="335" y="452" width="1" height="45" fill="#ff3636"/>
<rect x="336" y="452" width="1" height="45" fill="#ff4848"/>
<rect x="337" y="452" width="1" height="45" fill="#ff1818"/>
<rect x="340" y="451" width="5" height="47" fill="#cc0000"/>
<rect x="341" y="452" width="1" height="45" fill="#ff3636"/>
<rect x="342" y="452" width="1" height="45" fill="#ff4848"/>
<rect x="343" y="452" width="1" height="45" fill="#ff1818"/>
<rect x="346" y="451" width="5" height="47" fill="#cc0000"/>
<rect x="347" y="452" width="1" height="45" fill="#ff3636"/>
<rect x="348" y="452" width="1" height="45" fill="#ff4848"/>
<rect x="349" y="452" width="1" height="45" fill="#ff1818"/>
<rect x="353" y="451" width="5" height="47" fill="#cc0000"/>
<rect x="354" y="452" width="1" height="45" fill="#ff3636"/>
<rect x="355" y="452" width="1" height="45" fill="#ff4848"/>
<rect x="356" y="452" width="1" height="45" fill="#ff1818"/>
<rect x="359" y="404" width="5" height="48" fill="#0c5c0c"/>
<rect x="360" y="405" width="1" height="46" fill="#2fab2f"/>
<rect x="361" y="405" width="1" height="46" fill="#40c440"/>
<rect x="362" y="405" width="1" height="46" fill="#1d991d"/>
<rect x="365" y="404" width="5" height="48" fill="#0c5c0c"/>
<rect x="366" y="405" width="1" height="46" fill="#2fab2f"/>
<rect x="367" y="405" width="1" height="46" fill="#40c440"/>
<rect x="368" y="405" width="1" height="46" fill="#1d991d"/>
<rect x="372" y="404" width="5" height="48" fill="#0c5c0c"/>
<rect x="373" y="405" width="1" height="46" fill="#2fab2f"/>
<rect x="374" y="405" width="1" height="46" fill="#40c440"/>
<rect x="375" y="405" width="1" height="46" fill="#1d991d"/>
<rect x="378" y="404" width="5" height="48" fill="#0c5c0c"/>
<rect x="379" y="405" width="1" height="46" fill="#2fab2f"/>
<rect x="380" y="405" width="1" height="46" fill="#40c440"/>
<rect x="381" y="405" width="1" height="46" fill="#1d991d"/>
<rect x="385" y="404" width="5" height="48" fill="#0c5c0c"/>
<rect x="386" y="405" width="1" height="46" fill="#2fab2f"/>
<rect x="387" y="405" width="1" height="46" fill="#40c440"/>
<rect x="388" y="405" width="1" height="46" fill="#1d991d"/>
<rect x="391" y="404" width="5" height="48" fill="#0c5c0c"/>
<rect x="392" y="405" width="1" height="46" fill="#2fab2f"/>
<rect x="393" y="405" width="1" height="46" fill="#40c440"/>
<rect x="394" y="405" width="1" height="46" fill="#1d991d"/>
<rect x="397" y="404" width="5" height="48" fill="#0c5c0c"/>
<rect x="398" y="405" width="1" height="46" fill="#2fab2f"/>
<rect x="399" y="405" width="1" height="46" fill="#40c440"/>
<rect x="400" y="405" width="1" height="46" fill="#1d991d"/>
<rect x="404" y="451" width="5" height="47" fill="#cc0000"/>
<rect x="405" y="452" width="1" height="45" fill="#ff3636"/>
<rect x="406" y="452" width="1" height="45" fill="#ff4848"/>
<rect x="407" y="452" width="1" height="45" fill="#ff1818"/>
<rect x="410" y="451" width="5" height="47" fill="#cc0000"/>
<rect x="411" y="452" width="1" height="45" fill="#ff3636"/>
<rect x="412" y="452" width="1" height="45" fill="#ff4848"/>
<rect x="413" y="452" width="1" height="45" fill="#ff1818"/>
<rect x="416" y="451" width="5" height="47" fill="#cc0000"/>
<rect x="417" y="452" width="1" height="45" fill="#ff3636"/>
<rect x="418" y="452" width="1" height="45" fill="#ff4848"/>
<rect x="419" y="452" width="1" height="45" fill="#ff1818"/>
<rect x="423" y="451" width="5" height="47" fill="#cc0000"/>
<rect x="424" y="452" width="1" height="45" fill="#ff3636"/>
<rect x="425" y="452" width="1" height="45" fill="#ff4848"/>
<rect x="426" y="452" width="1" height="45" fill="#ff1818"/>
<rect x="429" y="451" width="5" height="47" fill="#cc0000"/>
<rect x="430" y="452" width="1" height="45" fill="#ff3636"/>
<rect x="431" y="452" width="1" height="45" fill="#ff4848"/>
<rect x="432" y="452" width="1" height="45" fill="#ff1818"/>
<rect x="435" y="451" width="5" height="47" fill="#cc0000"/>
<rect x="436" y="452" width="1" height="45" fill="#ff3636"/>
<rect x="437" y="452" width="1" height="45" fill="#ff4848"/>
<rect x="438" y="452" width="1" height="45" fill="#ff1818"/>
<rect x="442" y="451" width="5" height="47" fill="#cc0000"/>
<rect x="443" y="452" width="1" height="45" fill="#ff3636"/>
<rect x="444" y="452" width="1" height="45" fill="#ff4848"/>
<rect x="445" y="452" width="1" height="45" fill="#ff1818"/>
<rect x="448" y="451" width="5" height="47" fill="#cc0000"/>
<rect x="449" y="452" width="1" height="45" fill="#ff3636"/>
<rect x="450" y="452" width="1" height="45" fill="#ff4848"/>
<rect x="451" y="452" width="1" height="45" fill="#ff1818"/>
<rect x="454" y="451" width="5" height="47" fill="#cc0000"/>
<rect x="455" y="452" width="1" height="45" fill="#ff3636"/>
<rect x="456" y="452" width="1" height="45" fill="#ff4848"/>
<rect x="457" y="452" width="1" height="45" fill="#ff1818"/>
<rect x="461" y="451" width="5" height="47" fill="#cc0000"/>
<rect x="462" y="452" width="1" height="45" fill="#ff3636"/>
<rect x="463" y="452" width="1" height="45" fill="#ff4848"/>
<rect x="464" y="452" width="1" height="45" fill="#ff1818"/>
<rect x="467" y="451" width="5" height="47" fill="#cc0000"/>
<rect x="468" y="452" width="1" height="45" fill="#ff3636"/>
<rect x="469" y="452" width="1" height="45" fill="#ff4848"/>
<rect x="470" y="452" width="1" height="45" fill="#ff1818"/>
<rect x="473" y="404" width="5" height="48" fill="#0c5c0c"/>
<rect x="474" y="405" width="1" height="46" fill="#2fab2f"/>
<rect x="475" y="405" width="1" height="46" fill="#40c440"/>
<rect x="476" y="405" width="1" height="46" fill="#1d991d"/>
<rect x="480" y="404" width="5" height="48" fill="#0c5c0c"/>
<rect x="481" y="405" width="1" height="46" fill="#2fab2f"/>
<rect x="482" y="405" width="1" height="46" fill="#40c440"/>
<rect x="483" y="405" width="1" height="46" fill="#1d991d"/>
<rect x="486" y="404" width="5" height="48" fill="#0c5c0c"/>
<rect x="487" y="405" width="1" height="46" fill="#2fab2f"/>
<rect x="488" y="405" width="1" height="46" fill="#40c440"/>
<rect x="489" y="405" width="1" height="46" fill="#1d991d"/>
<rect x="493" y="404" width="5" height="48" fill="#0c5c0c"/>
<rect x="494" y="405" width="1" height="46" fill="#2fab2f"/>
<rect x="495" y="405" width="1" height="46" fill="#40c440"/>
<rect x="496" y="405" width="1" height="46" fill="#1d991d"/>
<rect x="499" y="451" width="5" height="47" fill="#cc0000"/>
<rect x="500" y="452" width="1" height="45" fill="#ff3636"/>
<rect x="501" y="452" width="1" height="45" fill="#ff4848"/>
<rect x="502" y="452" width="1" height="45" fill="#ff1818"/>
<rect x="505" y="451" width="5" height="47" fill="#cc0000"/>
<rect x="506" y="452" width="1" height="45" fill="#ff3636"/>
<rect x="507" y="452" width="1" height="45" fill="#ff4848"/>
<rect x="508" y="452" width="1" height="45" fill="#ff1818"/>
<rect x="512" y="451" width="5" height="47" fill="#cc0000"/>
<rect x="513" y="452" width="1" height="45" fill="#ff3636"/>
<rect x="514" y="452" width="1" height="45" fill="#ff4848"/>
<rect x="515" y="452" width="1" height="45" fill="#ff1818"/>
<rect x="518" y="451" width="5" height="47" fill="#cc0000"/>
<rect x="519" y="452" width="1" height="45" fill="#ff3636"/>
<rect x="520" y="452" width="1" height="45" fill="#ff4848"/>
<rect x="521" y="452" width="1" height="45" fill="#ff1818"/>
<rect x="524" y="404" width="5" height="48" fill="#0c5c0c"/>
<rect x="525" y="405" width="1" height="46" fill="#2fab2f"/>
<rect x="526" y="405" width="1" height="46" fill="#40c440"/>
<rect x="527" y="405" width="1" height="46" fill="#1d991d"/>
<rect x="531" y="404" width="5" height="48" fill="#0c5c0c"/>
<rect x="532" y="405" width="1" height="46" fill="#2fab2f"/>
<rect x="533" y="405" width="1" height="46" fill="#40c440"/>
<rect x="534" y="405" width="1" height="46" fill="#1d991d"/>
<rect x="537" y="404" width="5" height="48" fill="#0c5c0c"/>
<rect x="538" y="405" width="1" height="46" fill="#2fab2f"/>
<rect x="539" y="405" width="1" height="46" fill="#40c440"/>
<rect x="540" y="405" width="1" height="46" fill="#1d991d"/>
<rect x="543" y="404" width="5" height="48" fill="#0c5c0c"/>
<rect x="544" y="405" width="1" height="46" fill="#2fab2f"/>
<rect x="545" y="405" width="1" height="46" fill="#40c440"/>
<rect x="546" y="405" width="1" height="46" fill="#1d991d"/>
<rect x="550" y="404" width="5" height="48" fill="#0c5c0c"/>
<rect x="551" y="405" width="1" height="46" fill="#2fab2f"/>
<rect x="552" y="405" width="1" height="46" fill="#40c440"/>
<rect x="553" y="405" width="1" height="46" fill="#1d991d"/>
<rect x="556" y="404" width="5" height="48" fill="#0c5c0c"/>
<rect x="557" y="405" width="1" height="46" fill="#2fab2f"/>
<rect x="558" y="405" width="1" height="46" fill="#40c440"/>
<rect x="559" y="405" width="1" height="46" fill="#1d991d"/>
<rect x="562" y="404" width="5" height="48" fill="#0c5c0c"/>
<rect x="563" y="405" width="1" height="46" fill="#2fab2f"/>
<rect x="564" y="405" width="1" height="46" fill="#40c440"/>
<rect x="565" y="405" width="1" height="46" fill="#1d991d"/>
<rect x="569" y="404" width="5" height="48" fill="#0c5c0c"/>
<rect x="570" y="405" width="1" height="46" fill="#2fab2f"/>
<rect x="571" y="405" width="1" height="46" fill="#40c440"/>
<rect x="572" y="405" width="1" height="46" fill="#1d991d"/>
<rect x="575" y="404" width="5" height="48" fill="#0c5c0c"/>
<rect x="576" y="405" width="1" height="46" fill="#2fab2f"/>
<rect x="577" y="405" width="1" height="46" fill="#40c440"/>
<rect x="578" y="405" width="1" height="46" fill="#1d991d"/>
<rect x="582" y="404" width="5" height="48" fill="#0c5c0c"/>
<rect x="583" y="405" width="1" height="46" fill="#2fab2f"/>
<rect x="584" y="405" width="1" height="46" fill="#40c440"/>
<rect x="585" y="405" width="1" height="46" fill="#1d991d"/>
<rect x="588" y="404" width="5" height="48" fill="#0c5c0c"/>
<rect x="589" y="405" width="1" height="46" fill="#2fab2f"/>
<rect x="590" y="405" width="1" height="46" fill="#40c440"/>
<rect x="591" y="405" width="1" height="46" fill="#1d991d"/>
<rect x="594" y="404" width="5" height="48" fill="#0c5c0c"/>
<rect x="595" y="405" width="1" height="46" fill="#2fab2f"/>
<rect x="596" y="405" width="1" height="46" fill="#40c440"/>
<rect x="597" y="405" width="1" height="46" fill="#1d991d"/>
<rect x="601" y="404" width="5" height="48" fill="#0c5c0c"/>
<rect x="602" y="405" width="1" height="46" fill="#2fab2f"/>
<rect x="603" y="405" width="1" height="46" fill="#40c440"/>
<rect x="604" y="405" width="1" height="46" fill="#1d991d"/>
<rect x="607" y="404" width="5" height="48" fill="#0c5c0c"/>
<rect x="608" y="405" width="1" height="46" fill="#2fab2f"/>
<rect x="609" y="405" width="1" height="46" fill="#40c440"/>
<rect x="610" y="405" width="1" height="46" fill="#1d991d"/>
<rect x="613" y="404" width="5" height="48" fill="#0c5c0c"/>
<rect x="614" y="405" width="1" height="46" fill="#2fab2f"/>
<rect x="615" y="405" width="1" height="46" fill="#40c440"/>
<rect x="616" y="405" width="1" height="46" fill="#1d991d"/>
<rect x="620" y="404" width="5" height="48" fill="#0c5c0c"/>
<rect x="621" y="405" width="1" height="46" fill="#2fab2f"/>
<rect x="622" y="405" width="1" height="46" fill="#40c440"/>
<rect x="623" y="405" width="1" height="46" fill="#1d991d"/>
<rect x="626" y="404" width="5" height="48" fill="#0c5c0c"/>
<rect x="627" y="405" width="1" height="46" fill="#2fab2f"/>
<rect x="628" y="405" width="1" height="46" fill="#40c440"/>
<rect x="629" y="405" width="1" height="46" fill="#1d991d"/>
<rect x="632" y="404" width="5" height="48" fill="#0c5c0c"/>
<rect x="633" y="405" width="1" height="46" fill="#2fab2f"/>
<rect x="634" y="405" width="1" height="46" fill="#40c440"/>
<rect x="635" y="405" width="1" height="46" fill="#1d991d"/>
<rect x="639" y="404" width="5" height="48" fill="#0c5c0c"/>
<rect x="640" y="405" width="1" height="46" fill="#2fab2f"/>
<rect x="641" y="405" width="1" height="46" fill="#40c440"/>
<rect x="642" y="405" width="1" height="46" fill="#1d991d"/>
<rect x="645" y="404" width="5" height="48" fill="#0c5c0c"/>
<rect x="646" y="405" width="1" height="46" fill="#2fab2f"/>
<rect x="647" y="405" width="1" height="46" fill="#40c440"/>
<rect x="648" y="405" width="1" height="46" fill="#1d991d"/>
<rect x="651" y="404" width="5" height="48" fill="#0c5c0c"/>
<rect x="652" y="405" width="1" height="46" fill="#2fab2f"/>
<rect x="653" y="405" width="1" height="46" fill="#40c440"/>
<rect x="654" y="405" width="1" height="46" fill="#1d991d"/>
<rect x="658" y="404" width="5" height="48" fill="#0c5c0c"/>
<rect x="659" y="405" width="1" height="46" fill="#2fab2f"/>
<rect x="660" y="405" width="1" height="46" fill="#40c440"/>
<rect x="661" y="405" width="1" height="46" fill="#1d991d"/>
<rect x="664" y="404" width="5" height="48" fill="#0c5c0c"/>
<rect x="665" y="405" width="1" height="46" fill="#2fab2f"/>
<rect x="666" y="405" width="1" height="46" fill="#40c440"/>
<rect x="667" y="405" width="1" height="46" fill="#1d991d"/>
<rect x="671" y="404" width="5" height="48" fill="#0c5c0c"/>
<rect x="672" y="405" width="1" height="46" fill="#2fab2f"/>
<rect x="673" y="405" width="1" height="46" fill="#40c440"/>
<rect x="674" y="405" width="1" height="46" fill="#1d991d"/>
<rect x="677" y="404" width="5" height="48" fill="#0c5c0c"/>
<rect x="678" y="405" width="1" height="46" fill="#2fab2f"/>
<rect x="679" y="405" width="1" height="46" fill="#40c440"/>
<rect x="680" y="405" width="1" height="46" fill="#1d991d"/>
<rect x="683" y="404" width="5" height="48" fill="#0c5c0c"/>
<rect x="684" y="405" width="1" height="46" fill="#2fab2f"/>
<rect x="685" y="405" width="1" height="46" fill="#40c440"/>
<rect x="686" y="405" width="1" height="46" fill="#1d991d"/>
<rect x="690" y="404" width="5" height="48" fill="#0c5c0c"/>
<rect x="691" y="405" width="1" height="46" fill="#2fab2f"/>
<rect x="692" y="405" width="1" height="46" fill="#40c440"/>
<rect x="693" y="405" width="1" height="46" fill="#1d991d"/>
<rect x="696" y="404" width="5" height="48" fill="#0c5c0c"/>
<rect x="697" y="405" width="1" height="46" fill="#2fab2f"/>
<rect x="698" y="405" width="1" height="46" fill="#40c440"/>
<rect x="699" y="405" width="1" height="46" fill="#1d991d"/>
<rect x="702" y="404" width="5" height="48" fill="#0c5c0c"/>
<rect x="703" y="405" width="1" height="46" fill="#2fab2f"/>
<rect x="704" y="405" width="1" height="46" fill="#40c440"/>
<rect x="705" y="405" width="1" height="46" fill="#1d991d"/>
<rect x="709" y="404" width="5" height="48" fill="#0c5c0c"/>
<rect x="710" y="405" width="1" height="46" fill="#2fab2f"/>
<rect x="711" y="405" width="1" height="46" fill="#40c440"/>
<rect x="712" y="405" width="1" height="46" fill="#1d991d"/>
<rect x="715" y="404" width="5" height="48" fill="#0c5c0c"/>
<rect x="716" y="405" width="1" height="46" fill="#2fab2f"/>
<rect x="717" y="405" width="1" height="46" fill="#40c440"/>
<rect x="718" y="405" width="1" height="46" fill="#1d991d"/>
<rect x="721" y="404" width="5" height="48" fill="#0c5c0c"/>
<rect x="722" y="405" width="1" height="46" fill="#2fab2f"/>
<rect x="723" y="405" width="1" height="46" fill="#40c440"/>
<rect x="724" y="405" width="1" height="46" fill="#1d991d"/>
<rect x="728" y="404" width="5" height="48" fill="#0c5c0c"/>
<rect x="729" y="405" width="1" height="46" fill="#2fab2f"/>
<rect x="730" y="405" width="1" height="46" fill="#40c440"/>
<rect x="731" y="405" width="1" height="46" fill="#1d991d"/>
<rect x="734" y="404" width="5" height="48" fill="#0c5c0c"/>
<rect x="735" y="405" width="1" height="46" fill="#2fab2f"/>
<rect x="736" y="405" width="1" height="46" fill="#40c440"/>
<rect x="737" y="405" width="1" height="46" fill="#1d991d"/>
<rect x="740" y="404" width="5" height="48" fill="#0c5c0c"/>
<rect x="741" y="405" width="1" height="46" fill="#2fab2f"/>
<rect x="742" y="405" width="1" height="46" fill="#40c440"/>
<rect x="743" y="405" width="1" height="46" fill="#1d991d"/>
<rect x="747" y="404" width="5" height="48" fill="#0c5c0c"/>
<rect x="748" y="405" width="1" height="46" fill="#2fab2f"/>
<rect x="749" y="405" width="1" height="46" fill="#40c440"/>
<rect x="750" y="405" width="1" height="46" fill="#1d991d"/>
<rect x="753" y="451" width="5" height="47" fill="#cc0000"/>
<rect x="754" y="452" width="1" height="45" fill="#ff3636"/>
<rect x="755" y="452" width="1" height="45" fill="#ff4848"/>
<rect x="756" y="452" width="1" height="45" fill="#ff1818"/>
<rect x="759" y="451" width="5" height="47" fill="#cc0000"/>
<rect x="760" y="452" width="1" height="45" fill="#ff3636"/>
<rect x="761" y="452" width="1" height="45" fill="#ff4848"/>
<rect x="762" y="452" width="1" height="45" fill="#ff1818"/>
<rect x="766" y="451" width="5" height="47" fill="#cc0000"/>
<rect x="767" y="452" width="1" height="45" fill="#ff3636"/>
<rect x="768" y="452" width="1" height="45" fill="#ff4848"/>
<rect x="769" y="452" width="1" height="45" fill="#ff1818"/>
<rect x="772" y="451" width="5" height="47" fill="#cc0000"/>
<rect x="773" y="452" width="1" height="45" fill="#ff3636"/>
<rect x="774" y="452" width="1" height="45" fill="#ff4848"/>
<rect x="775" y="452" width="1" height="45" fill="#ff1818"/>
<rect x="779" y="451" width="5" height="47" fill="#cc0000"/>
<rect x="780" y="452" width="1" height="45" fill="#ff3636"/>
<rect x="781" y="452" width="1" height="45" fill="#ff4848"/>
<rect x="782" y="452" width="1" height="45" fill="#ff1818"/>
<rect x="785" y="451" width="5" height="47" fill="#cc0000"/>
<rect x="786" y="452" width="1" height="45" fill="#ff3636"/>
<rect x="787" y="452" width="1" height="45" fill="#ff4848"/>
<rect x="788" y="452" width="1" height="45" fill="#ff1818"/>
<rect x="791" y="404" width="5" height="48" fill="#0c5c0c"/>
<rect x="792" y="405" width="1" height="46" fill="#2fab2f"/>
<rect x="793" y="405" width="1" height="46" fill="#40c440"/>
<rect x="794" y="405" width="1" height="46" fill="#1d991d"/>
<rect x="798" y="451" width="5" height="47" fill="#cc0000"/>
<rect x="799" y="452" width="1" height="45" fill="#ff3636"/>
<rect x="800" y="452" width="1" height="45" fill="#ff4848"/>
<rect x="801" y="452" width="1" height="45" fill="#ff1818"/>
<rect x="804" y="451" width="5" height="47" fill="#cc0000"/>
<rect x="805" y="452" width="1" height="45" fill="#ff3636"/>
<rect x="806" y="452" width="1" height="45" fill="#ff4848"/>
<rect x="807" y="452" width="1" height="45" fill="#ff1818"/>
<rect x="810" y="451" width="5" height="47" fill="#cc0000"/>
<rect x="811" y="452" width="1" height="45" fill="#ff3636"/>
<rect x="812" y="452" width="1" height="45" fill="#ff4848"/>
<rect x="813" y="452" width="1" height="45" fill="#ff1818"/>
<rect x="817" y="451" width="5" height="47" fill="#cc0000"/>
<rect x="818" y="452" width="1" height="45" fill="#ff3636"/>
<rect x="819" y="452" width="1" height="45" fill="#ff4848"/>
<rect x="820" y="452" width="1" height="45" fill="#ff1818"/>
<rect x="823" y="451" width="5" height="47" fill="#cc0000"/>
<rect x="824" y="452" width="1" height="45" fill="#ff3636"/>
<rect x="825" y="452" width="1" height="45" fill="#ff4848"/>
<rect x="826" y="452" width="1" height="45" fill="#ff1818"/>
<rect x="829" y="451" width="5" height="47" fill="#cc0000"/>
<rect x="830" y="452" width="1" height="45" fill="#ff3636"/>
<rect x="831" y="452" width="1" height="45" fill="#ff4848"/>
<rect x="832" y="452" width="1" height="45" fill="#ff1818"/>
<rect x="836" y="451" width="5" height="47" fill="#cc0000"/>
<rect x="837" y="452" width="1" height="45" fill="#ff3636"/>
<rect x="838" y="452" width="1" height="45" fill="#ff4848"/>
<rect x="839" y="452" width="1" height="45" fill="#ff1818"/>
<rect x="842" y="451" width="5" height="47" fill="#cc0000"/>
<rect x="843" y="452" width="1" height="45" fill="#ff3636"/>
<rect x="844" y="452" width="1" height="45" fill="#ff4848"/>
<rect x="845" y="452" width="1" height="45" fill="#ff1818"/>
<rect x="848" y="451" width="5" height="47" fill="#cc0000"/>
<rect x="849" y="452" width="1" height="45" fill="#ff3636"/>
<rect x="850" y="452" width="1" height="45" fill="#ff4848"/>
<rect x="851" y="452" width="1" height="45" fill="#ff1818"/>
<rect x="855" y="451" width="5" height="47" fill="#cc0000"/>
<rect x="856" y="452" width="1" height="45" fill="#ff3636"/>
<rect x="857" y="452" width="1" height="45" fill="#ff4848"/>
<rect x="858" y="452" width="1" height="45" fill="#ff1818"/>
<rect x="861" y="451" width="5" height="47" fill="#cc0000"/>
<rect x="862" y="452" width="1" height="45" fill="#ff3636"/>
<rect x="863" y="452" width="1" height="45" fill="#ff4848"/>
<rect x="864" y="452" width="1" height="45" fill="#ff1818"/>
<rect x="868" y="404" width="5" height="48" fill="#0c5c0c"/>
<rect x="869" y="405" width="1" height="46" fill="#2fab2f"/>
<rect x="870" y="405" width="1" height="46" fill="#40c440"/>
<rect x="871" y="405" width="1" height="46" fill="#1d991d"/>
<rect x="874" y="404" width="5" height="48" fill="#0c5c0c"/>
<rect x="875" y="405" width="1" height="46" fill="#2fab2f"/>
<rect x="876" y="405" width="1" height="46" fill="#40c440"/>
<rect x="877" y="405" width="1" height="46" fill="#1d991d"/>
<rect x="880" y="404" width="5" height="48" fill="#0c5c0c"/>
<rect x="881" y="405" width="1" height="46" fill="#2fab2f"/>
<rect x="882" y="405" width="1" height="46" fill="#40c440"/>
<rect x="883" y="405" width="1" height="46" fill="#1d991d"/>
<rect x="887" y="404" width="5" height="48" fill="#0c5c0c"/>
<rect x="888" y="405" width="1" height="46" fill="#2fab2f"/>
<rect x="889" y="405" width="1" height="46" fill="#40c440"/>
<rect x="890" y="405" width="1" height="46" fill="#1d991d"/>
<rect x="893" y="404" width="5" height="48" fill="#0c5c0c"/>
<rect x="894" y="405" width="1" height="46" fill="#2fab2f"/>
<rect x="895" y="405" width="1" height="46" fill="#40c440"/>
<rect x="896" y="405" width="1" height="46" fill="#1d991d"/>
<rect x="899" y="404" width="5" height="48" fill="#0c5c0c"/>
<rect x="900" y="405" width="1" height="46" fill="#2fab2f"/>
<rect x="901" y="405" width="1" height="46" fill="#40c440"/>
<rect x="902" y="405" width="1" height="46" fill="#1d991d"/>
<rect x="906" y="404" width="5" height="48" fill="#0c5c0c"/>
<rect x="907" y="405" width="1" height="46" fill="#2fab2f"/>
<rect x="908" y="405" width="1" height="46" fill="#40c440"/>
<rect x="909" y="405" width="1" height="46" fill="#1d991d"/>
<rect x="912" y="404" width="5" height="48" fill="#0c5c0c"/>
<rect x="913" y="405" width="1" height="46" fill="#2fab2f"/>
<rect x="914" y="405" width="1" height="46" fill="#40c440"/>
<rect x="915" y="405" width="1" height="46" fill="#1d991d"/>
<rect x="918" y="404" width="5" height="48" fill="#0c5c0c"/>
<rect x="919" y="405" width="1" height="46" fill="#2fab2f"/>
<rect x="920" y="405" width="1" height="46" fill="#40c440"/>
<rect x="921" y="405" width="1" height="46" fill="#1d991d"/>
<rect x="925" y="404" width="5" height="48" fill="#0c5c0c"/>
<rect x="926" y="405" width="1" height="46" fill="#2fab2f"/>
<rect x="927" y="405" width="1" height="46" fill="#40c440"/>
<rect x="928" y="405" width="1" height="46" fill="#1d991d"/>
<rect x="931" y="404" width="5" height="48" fill="#0c5c0c"/>
<rect x="932" y="405" width="1" height="46" fill="#2fab2f"/>
<rect x="933" y="405" width="1" height="46" fill="#40c440"/>
<rect x="934" y="405" width="1" height="46" fill="#1d991d"/>
<rect x="937" y="404" width="5" height="48" fill="#0c5c0c"/>
<rect x="938" y="405" width="1" height="46" fill="#2fab2f"/>
<rect x="939" y="405" width="1" height="46" fill="#40c440"/>
<rect x="940" y="405" width="1" height="46" fill="#1d991d"/>
<rect x="944" y="404" width="5" height="48" fill="#0c5c0c"/>
<rect x="945" y="405" width="1" height="46" fill="#2fab2f"/>
<rect x="946" y="405" width="1" height="46" fill="#40c440"/>
<rect x="947" y="405" width="1" height="46" fill="#1d991d"/>
<rect x="950" y="404" width="5" height="48" fill="#0c5c0c"/>
<rect x="951" y="405" width="1" height="46" fill="#2fab2f"/>
<rect x="952" y="405" width="1" height="46" fill="#40c440"/>
<rect x="953" y="405" width="1" height="46" fill="#1d991d"/>
<rect x="957" y="404" width="5" height="48" fill="#0c5c0c"/>
<rect x="958" y="405" width="1" height="46" fill="#2fab2f"/>
<rect x="959" y="405" width="1" height="46" fill="#40c440"/>
<rect x="960" y="405" width="1" height="46" fill="#1d991d"/>
<rect x="963" y="404" width="5" height="48" fill="#0c5c0c"/>
<rect x="964" y="405" width="1" height="46" fill="#2fab2f"/>
<rect x="965" y="405" width="1" height="46" fill="#40c440"/>
<rect x="966" y="405" width="1" height="46" fill="#1d991d"/>
<rect x="969" y="404" width="5" height="48" fill="#0c5c0c"/>
<rect x="970" y="405" width="1" height="46" fill="#2fab2f"/>
<rect x="971" y="405" width="1" height="46" fill="#40c440"/>
<rect x="972" y="405" width="1" height="46" fill="#1d991d"/>
<rect x="976" y="404" width="5" height="48" fill="#0c5c0c"/>
<rect x="977" y="405" width="1" height="46" fill="#2fab2f"/>
<rect x="978" y="405" width="1" height="46" fill="#40c440"/>
<rect x="979" y="405" width="1" height="46" fill="#1d991d"/>
<rect x="982" y="404" width="5" height="48" fill="#0c5c0c"/>
<rect x="983" y="405" width="1" height="46" fill="#2fab2f"/>
<rect x="984" y="405" width="1" height="46" fill="#40c440"/>
<rect x="985" y="405" width="1" height="46" fill="#1d991d"/>
<rect x="988" y="404" width="5" height="48" fill="#0c5c0c"/>
<rect x="989" y="405" width="1" height="46" fill="#2fab2f"/>
<rect x="990" y="405" width="1" height="46" fill="#40c440"/>
<rect x="991" y="405" width="1" height="46" fill="#1d991d"/>
<rect x="995" y="404" width="5" height="48" fill="#0c5c0c"/>
<rect x="996" y="405" width="1" height="46" fill="#2fab2f"/>
<rect x="997" y="405" width="1" height="46" fill="#40c440"/>
<rect x="998" y="405" width="1" height="46" fill="#1d991d"/>
<rect x="1001" y="404" width="5" height="48" fill="#0c5c0c"/>
<rect x="1002" y="405" width="1" height="46" fill="#2fab2f"/>
<rect x="1003" y="405" width="1" height="46" fill="#40c440"/>
<rect x="1004" y="405" width="1" height="46" fill="#1d991d"/>
<rect x="1007" y="404" width="5" height="48" fill="#0c5c0c"/>
<rect x="1008" y="405" width="1" height="46" fill="#2fab2f"/>
<rect x="1009" y="405" width="1" height="46" fill="#40c440"/>
<rect x="1010" y="405" width="1" height="46" fill="#1d991d"/>
<rect x="1014" y="404" width="5" height="48" fill="#0c5c0c"/>
<rect x="1015" y="405" width="1" height="46" fill="#2fab2f"/>
<rect x="1016" y="405" width="1" height="46" fill="#40c440"/>
<rect x="1017" y="405" width="1" height="46" fill="#1d991d"/>
<rect x="1020" y="404" width="5" height="48" fill="#0c5c0c"/>
<rect x="1021" y="405" width="1" height="46" fill="#2fab2f"/>
<rect x="1022" y="405" width="1" height="46" fill="#40c440"/>
<rect x="1023" y="405" width="1" height="46" fill="#1d991d"/>
<rect x="0.5" y="394.5" width="111" height="17" fill="#e6edf3" stroke="#a6b6c0" stroke-width="1"/>
<rect x="5" y="398" width="5" height="10" fill="#008000"/><rect x="10" y="398" width="5" height="10" fill="#ff0000"/>
<text x="19.4" y="407.3" font-size="11.5" font-weight="normal" fill="#000" text-anchor="start" textLength="73" lengthAdjust="spacingAndGlyphs" stroke="#000" stroke-width="0.15">OscillatoreSTI</text>
<path d="M101 397.4 L104.7 397.4 L103.3 398.1 L103.3 401.4 L107.1 401.4 L107.3 400.3 L107.8 400.3 L107.8 403.1 L106.4 404.4 L102.5 404.4 L98.6 408.4 L97.5 408.7 L96.4 407.6 L96.4 406.4 L100.4 402.4 L100.4 398.4 Z" fill="none" stroke="#4f7c99" stroke-width="1.15" stroke-linejoin="round"/>
<rect x="0" y="502" width="1146" height="1" fill="#a3b3bd"/>
<rect x="1" y="542" width="1144" height="1" fill="#2a2ad8"/>
<rect x="1" y="580" width="1144" height="1" fill="#2a2ad8"/>
<polyline points="0,574 6.25,575.75 12,576.5 18.75,569.25 24.5,571.25 31.25,569.25 37.5,571.75 43.75,576.25 50,575.25 56.25,575.25 62.5,580 68.75,577.5 75.5,568.25 81.75,565.25 88,567 94.5,568.5 100.75,570.5 107.5,577.5 113.75,571.75 120,567.75 126.25,561.25 132.5,564.5 139.25,566.5 145.5,565.5 151.75,563.25 158.25,566.5 164.5,562.25 170.75,557.5 177.5,552.5 183.75,551.25 189.25,553.5 196.25,550.5 202.5,550.5 209.25,551.75 215,549.5 221.25,553.5 227.5,551.75 234.25,549.75 240.5,548.25 247.5,547.25 253.25,552.5 259.5,549.5 266.25,557 272.5,563.5 278.75,560.25 285,559.25 291.25,559.5 292.5,559.5 298.75,567.25 304.5,568.25 310.75,568.25 317,572 323.25,575.25 329.5,564.5 336.25,569.25 342.5,569.25 348.75,569.25 355.5,566.25 361.75,559.5 367.5,553.25 374.5,557.5 380.75,556.5 387.5,556.5 393.75,561.5 400,560.25 406.25,565.5 412.5,561.25 418.75,565.75 425.5,573.25 431.75,571.25 438,573.25 444.5,574.5 450.75,579.5 457,574 463.75,569.25 469.5,560.25 476.25,563.25 482.5,565.25 488.75,568.25 495.5,568.5 501.75,570.75 507.5,572.5 514.25,568.5 520.5,565.25 526.75,560.5 533,558.5 539.5,558.25 545.75,555.25 552,557.5 558.75,552.25 565,549.25 571.25,547.25 577.5,545.25 583.75,546 590,545.25 596.25,544.25 603,543.25 609.25,546.5 615.5,540.5 621.75,538.5 628,536.5 634.5,536.5 641.25,531.5 647.5,531.25 653.75,530.25 660,530.25 666.75,534.75 673.25,539.5 679.5,537.5 685.75,540.5 692.5,538.25 698.75,539.25 705,537.25 711.75,538.25 717.5,545.25 724.25,545.5 730.5,543.5 736.75,542.5 743,544.5 749.25,546.5 755.75,553.25 762,555.25 768.75,555.25 775,554.25 781.25,553.25 787.5,547.25 793.75,549.5 800.5,568.25 806.25,569.25 812.5,569.25 819.25,569.25 825.5,560.25 831.75,565.5 838.25,564.5 845,564.5 850.75,566.25 857.5,559.25 863.75,566.25 870,558.75 876.25,553.25 882.5,548.25 889.25,549.25 895.5,544.25 901.75,542.5 908.75,543.5 914.5,541.25 920.75,539.25 927,539.25 933.25,537.25 940,537.25 946.25,536.25 952.5,548.5 958.75,546.5 965,544.5 971.75,543.25 978.25,544.5 984.5,540.5 990.5,537.25 997,540.5 1003.75,537.25 1010,536 1016.75,533 1022.5,537.25" fill="none" stroke="#111" stroke-width="1.25" stroke-linejoin="round"/>
<rect x="0.5" y="502.5" width="78" height="17" fill="#e6edf3" stroke="#a6b6c0" stroke-width="1"/>
<rect x="5" y="506" width="10" height="10" fill="#000"/>
<text x="19.6" y="515" font-size="11.5" font-weight="normal" fill="#000" text-anchor="start" textLength="15" lengthAdjust="spacingAndGlyphs" stroke="#000" stroke-width="0.15">RSI</text>
<text x="38.5" y="515" font-size="11.5" font-weight="normal" fill="#000" text-anchor="start" textLength="20.8" lengthAdjust="spacingAndGlyphs" stroke="#000" stroke-width="0.15">(14)</text>
<path d="M67.6 505.2 L71.3 505.2 L69.9 505.9 L69.9 509.2 L73.7 509.2 L73.9 508.1 L74.4 508.1 L74.4 510.9 L73 512.2 L69.1 512.2 L65.2 516.2 L64.1 516.5 L63 515.4 L63 514.2 L67 510.2 L67 506.2 Z" fill="none" stroke="#4f7c99" stroke-width="1.15" stroke-linejoin="round"/>
<rect x="0" y="614" width="1146" height="1" fill="#a3b3bd"/>
<polygon points="-2,682.5 0,678 5,668.75 11.25,659.25 18,648.25 24.25,663.25 31.25,668.25 37.5,665 43.75,652.5 50.5,658.25 56.75,676.25 62.5,652.5 69.25,658.75 75.5,663.75 81.25,665.5 88,673.5 94.5,670.75 101.25,659.5 107.5,639.5 113.75,660.75 120.5,669.5 126.25,666.5 132.5,641.5 139.5,652 145.5,675.5 151.25,674.5 158.25,678.5 164.5,675 170.75,665 177.5,651.5 183.75,664.25 189.25,668.75 196.25,678 202.5,673.25 209.25,674.5 215.5,670.5 221.75,670 228,656.5 234.25,661.25 240.5,669.25 247.5,658.5 253.75,660.75 259.5,666.25 266.25,654.5 272.5,653.5 278.75,660 285,669.25 291.25,669.25 292.5,669.25 298.25,659.5 304.5,665.25 310.75,654.5 317,655.25 323.25,656.5 329.5,652.5 336.25,674.25 342.5,668.5 348.75,670.25 355.5,657.5 361.75,657.25 367.5,640.5 374.5,635.5 380.75,655.5 387.5,674.5 393.75,695.5 400,679.25 406.25,671.5 412.5,669.25 418.75,650 425.5,628.5 431.75,651.5 438,661.25 444.5,644.5 450.75,664.25 457,666.25 463.75,667.5 469.5,669.25 475.5,670.5 482.5,668.5 488.75,665.5 495.5,669.5 501.75,663.25 507.5,666.25 514.25,649.5 520.5,655 526.75,674.5 533,671.25 539.5,676.5 545.75,673.25 552,668.75 558.75,662.5 565,671.25 571.25,666.5 577.5,661.25 583.75,665.25 590,671.5 596.25,659.5 603,667.25 609.25,666.25 615.5,633.5 622.5,667.5 628.75,676.25 634.5,668.5 641.25,654.5 647.5,664.25 653.75,668.25 660.5,662.5 666.75,672.25 673.25,667.5 679.5,665.5 685.75,670.25 692.5,666.25 698.75,668.25 705,673.5 711.75,677.25 717.5,663.5 723.75,658.25 730.5,660.25 736.25,650.25 743,662.5 749.25,671.25 755.5,641.5 762,665.5 768.75,669.25 775,662.5 781.25,628.25 787.5,624.5 793.75,655.25 800.5,667.5 806.25,695.25 812.5,683.25 819.25,677.25 825.5,675.25 831.75,662.25 838.25,664.25 845,675.25 850.75,672.5 857.5,662.25 863.75,663.25 870,667.25 876.25,622.5 882.5,648.75 889.25,665.25 895.5,662.5 901.75,667.5 908.75,670.25 914.5,670.25 920.75,660.5 927,669.5 933.25,679.25 940,658.5 946.25,659.25 952.5,650.5 959.5,666.25 965,667.25 971.75,671.25 978.25,668.5 984.5,661.5 990.5,657.25 997,663.25 1003.75,658.5 1010,665.25 1016.75,654.5 1022.5,665 1022.5,699 -2,699" fill="url(#gv)"/>
<polyline points="-2,682.5 0,678 5,668.75 11.25,659.25 18,648.25 24.25,663.25 31.25,668.25 37.5,665 43.75,652.5 50.5,658.25 56.75,676.25 62.5,652.5 69.25,658.75 75.5,663.75 81.25,665.5 88,673.5 94.5,670.75 101.25,659.5 107.5,639.5 113.75,660.75 120.5,669.5 126.25,666.5 132.5,641.5 139.5,652 145.5,675.5 151.25,674.5 158.25,678.5 164.5,675 170.75,665 177.5,651.5 183.75,664.25 189.25,668.75 196.25,678 202.5,673.25 209.25,674.5 215.5,670.5 221.75,670 228,656.5 234.25,661.25 240.5,669.25 247.5,658.5 253.75,660.75 259.5,666.25 266.25,654.5 272.5,653.5 278.75,660 285,669.25 291.25,669.25 292.5,669.25 298.25,659.5 304.5,665.25 310.75,654.5 317,655.25 323.25,656.5 329.5,652.5 336.25,674.25 342.5,668.5 348.75,670.25 355.5,657.5 361.75,657.25 367.5,640.5 374.5,635.5 380.75,655.5 387.5,674.5 393.75,695.5 400,679.25 406.25,671.5 412.5,669.25 418.75,650 425.5,628.5 431.75,651.5 438,661.25 444.5,644.5 450.75,664.25 457,666.25 463.75,667.5 469.5,669.25 475.5,670.5 482.5,668.5 488.75,665.5 495.5,669.5 501.75,663.25 507.5,666.25 514.25,649.5 520.5,655 526.75,674.5 533,671.25 539.5,676.5 545.75,673.25 552,668.75 558.75,662.5 565,671.25 571.25,666.5 577.5,661.25 583.75,665.25 590,671.5 596.25,659.5 603,667.25 609.25,666.25 615.5,633.5 622.5,667.5 628.75,676.25 634.5,668.5 641.25,654.5 647.5,664.25 653.75,668.25 660.5,662.5 666.75,672.25 673.25,667.5 679.5,665.5 685.75,670.25 692.5,666.25 698.75,668.25 705,673.5 711.75,677.25 717.5,663.5 723.75,658.25 730.5,660.25 736.25,650.25 743,662.5 749.25,671.25 755.5,641.5 762,665.5 768.75,669.25 775,662.5 781.25,628.25 787.5,624.5 793.75,655.25 800.5,667.5 806.25,695.25 812.5,683.25 819.25,677.25 825.5,675.25 831.75,662.25 838.25,664.25 845,675.25 850.75,672.5 857.5,662.25 863.75,663.25 870,667.25 876.25,622.5 882.5,648.75 889.25,665.25 895.5,662.5 901.75,667.5 908.75,670.25 914.5,670.25 920.75,660.5 927,669.5 933.25,679.25 940,658.5 946.25,659.25 952.5,650.5 959.5,666.25 965,667.25 971.75,671.25 978.25,668.5 984.5,661.5 990.5,657.25 997,663.25 1003.75,658.5 1010,665.25 1016.75,654.5 1022.5,665" fill="none" stroke="#111" stroke-width="1.25" stroke-linejoin="round"/>
<rect x="0.5" y="614.5" width="152" height="17" fill="#e6edf3" stroke="#a6b6c0" stroke-width="1"/>
<rect x="5" y="617.8" width="10" height="9.9" fill="#000"/>
<text x="19.5" y="627" font-size="11.5" font-weight="normal" fill="#000" text-anchor="start" textLength="113.5" lengthAdjust="spacingAndGlyphs" stroke="#000" stroke-width="0.15">variazionevolume5gg</text>
<path d="M141.9 617.4 L145.6 617.4 L144.2 618.1 L144.2 621.4 L148 621.4 L148.2 620.3 L148.7 620.3 L148.7 623.1 L147.3 624.4 L143.4 624.4 L139.5 628.4 L138.4 628.7 L137.3 627.6 L137.3 626.4 L141.3 622.4 L141.3 618.4 Z" fill="none" stroke="#4f7c99" stroke-width="1.15" stroke-linejoin="round"/>
<rect x="0" y="699" width="1146" height="1" fill="#a3b3bd"/>
<rect x="24" y="700" width="1" height="3" fill="#a3b3bd"/>
<rect x="50" y="700" width="1" height="3" fill="#a3b3bd"/>
<rect x="62" y="700" width="1" height="3" fill="#a3b3bd"/>
<rect x="101" y="700" width="1" height="3" fill="#a3b3bd"/>
<rect x="139" y="700" width="1" height="3" fill="#a3b3bd"/>
<rect x="177" y="700" width="1" height="3" fill="#a3b3bd"/>
<rect x="183" y="700" width="1" height="3" fill="#a3b3bd"/>
<rect x="215" y="700" width="1" height="3" fill="#a3b3bd"/>
<rect x="253" y="700" width="1" height="3" fill="#a3b3bd"/>
<rect x="291" y="700" width="1" height="3" fill="#a3b3bd"/>
<rect x="323" y="700" width="1" height="3" fill="#a3b3bd"/>
<rect x="329" y="700" width="1" height="3" fill="#a3b3bd"/>
<rect x="367" y="700" width="1" height="3" fill="#a3b3bd"/>
<rect x="406" y="700" width="1" height="3" fill="#a3b3bd"/>
<rect x="444" y="700" width="1" height="3" fill="#a3b3bd"/>
<rect x="463" y="700" width="1" height="3" fill="#a3b3bd"/>
<rect x="482" y="700" width="1" height="3" fill="#a3b3bd"/>
<rect x="520" y="700" width="1" height="3" fill="#a3b3bd"/>
<rect x="558" y="700" width="1" height="3" fill="#a3b3bd"/>
<rect x="596" y="700" width="1" height="3" fill="#a3b3bd"/>
<rect x="634" y="700" width="1" height="3" fill="#a3b3bd"/>
<rect x="673" y="700" width="1" height="3" fill="#a3b3bd"/>
<rect x="711" y="700" width="1" height="3" fill="#a3b3bd"/>
<rect x="736" y="700" width="1" height="3" fill="#a3b3bd"/>
<rect x="749" y="700" width="1" height="3" fill="#a3b3bd"/>
<rect x="787" y="700" width="1" height="3" fill="#a3b3bd"/>
<rect x="825" y="700" width="1" height="3" fill="#a3b3bd"/>
<rect x="863" y="700" width="1" height="3" fill="#a3b3bd"/>
<rect x="870" y="700" width="1" height="3" fill="#a3b3bd"/>
<rect x="901" y="700" width="1" height="3" fill="#a3b3bd"/>
<rect x="939" y="700" width="1" height="3" fill="#a3b3bd"/>
<rect x="978" y="700" width="1" height="3" fill="#a3b3bd"/>
<rect x="1009" y="700" width="1" height="3" fill="#a3b3bd"/>
<rect x="1016" y="700" width="1" height="3" fill="#a3b3bd"/>
<rect x="1054" y="700" width="1" height="3" fill="#a3b3bd"/>
<rect x="1092" y="700" width="1" height="3" fill="#a3b3bd"/>
<rect x="1130" y="700" width="1" height="3" fill="#a3b3bd"/>
<rect x="1136" y="700" width="1" height="3" fill="#a3b3bd"/>
<g clip-path="url(#cx)">
<text x="23.9" y="713.9" font-size="11" font-weight="normal" fill="#000" text-anchor="middle" textLength="12.8" lengthAdjust="spacingAndGlyphs" stroke="#000" stroke-width="0.15">27</text>
<text x="49.9" y="713.9" font-size="12.5" font-weight="bold" fill="#000" text-anchor="middle">lug</text>
<text x="100.9" y="713.9" font-size="11" font-weight="normal" fill="#000" text-anchor="middle" textLength="12.8" lengthAdjust="spacingAndGlyphs" stroke="#000" stroke-width="0.15">13</text>
<text x="138.9" y="713.9" font-size="11" font-weight="normal" fill="#000" text-anchor="middle" textLength="12.8" lengthAdjust="spacingAndGlyphs" stroke="#000" stroke-width="0.15">21</text>
<text x="182.9" y="713.9" font-size="12.5" font-weight="bold" fill="#000" text-anchor="middle">ago</text>
<text x="214.9" y="713.9" font-size="11" font-weight="normal" fill="#000" text-anchor="middle" textLength="12.8" lengthAdjust="spacingAndGlyphs" stroke="#000" stroke-width="0.15">08</text>
<text x="252.9" y="713.9" font-size="11" font-weight="normal" fill="#000" text-anchor="middle" textLength="12.8" lengthAdjust="spacingAndGlyphs" stroke="#000" stroke-width="0.15">17</text>
<text x="290.9" y="713.9" font-size="11" font-weight="normal" fill="#000" text-anchor="middle" textLength="12.8" lengthAdjust="spacingAndGlyphs" stroke="#000" stroke-width="0.15">25</text>
<text x="322.9" y="713.9" font-size="12.5" font-weight="bold" fill="#000" text-anchor="middle">set</text>
<text x="366.9" y="713.9" font-size="11" font-weight="normal" fill="#000" text-anchor="middle" textLength="12.8" lengthAdjust="spacingAndGlyphs" stroke="#000" stroke-width="0.15">12</text>
<text x="405.9" y="713.9" font-size="11" font-weight="normal" fill="#000" text-anchor="middle" textLength="12.8" lengthAdjust="spacingAndGlyphs" stroke="#000" stroke-width="0.15">20</text>
<text x="462.9" y="713.9" font-size="12.5" font-weight="bold" fill="#000" text-anchor="middle">ott</text>
<text x="519.9" y="713.9" font-size="11" font-weight="normal" fill="#000" text-anchor="middle" textLength="12.8" lengthAdjust="spacingAndGlyphs" stroke="#000" stroke-width="0.15">14</text>
<text x="557.9" y="713.9" font-size="11" font-weight="normal" fill="#000" text-anchor="middle" textLength="12.8" lengthAdjust="spacingAndGlyphs" stroke="#000" stroke-width="0.15">24</text>
<text x="595.9" y="713.9" font-size="12.5" font-weight="bold" fill="#000" text-anchor="middle">nov</text>
<text x="633.9" y="713.9" font-size="11" font-weight="normal" fill="#000" text-anchor="middle" textLength="12.8" lengthAdjust="spacingAndGlyphs" stroke="#000" stroke-width="0.15">09</text>
<text x="672.9" y="713.9" font-size="11" font-weight="normal" fill="#000" text-anchor="middle" textLength="12.8" lengthAdjust="spacingAndGlyphs" stroke="#000" stroke-width="0.15">17</text>
<text x="710.9" y="713.9" font-size="11" font-weight="normal" fill="#000" text-anchor="middle" textLength="12.8" lengthAdjust="spacingAndGlyphs" stroke="#000" stroke-width="0.15">25</text>
<text x="735.9" y="713.9" font-size="12.5" font-weight="bold" fill="#000" text-anchor="middle">dic</text>
<text x="786.9" y="713.9" font-size="11" font-weight="normal" fill="#000" text-anchor="middle" textLength="12.8" lengthAdjust="spacingAndGlyphs" stroke="#000" stroke-width="0.15">13</text>
<text x="824.9" y="713.9" font-size="11" font-weight="normal" fill="#000" text-anchor="middle" textLength="12.8" lengthAdjust="spacingAndGlyphs" stroke="#000" stroke-width="0.15">21</text>
<text x="869.9" y="713.9" font-size="12.5" font-weight="bold" fill="#000" text-anchor="middle" textLength="29.5" lengthAdjust="spacingAndGlyphs">2023</text>
<text x="900.9" y="713.9" font-size="11" font-weight="normal" fill="#000" text-anchor="middle" textLength="12.8" lengthAdjust="spacingAndGlyphs" stroke="#000" stroke-width="0.15">09</text>
<text x="938.9" y="713.9" font-size="11" font-weight="normal" fill="#000" text-anchor="middle" textLength="12.8" lengthAdjust="spacingAndGlyphs" stroke="#000" stroke-width="0.15">17</text>
<text x="977.9" y="713.9" font-size="11" font-weight="normal" fill="#000" text-anchor="middle" textLength="12.8" lengthAdjust="spacingAndGlyphs" stroke="#000" stroke-width="0.15">25</text>
<text x="1008.9" y="713.9" font-size="12.5" font-weight="bold" fill="#000" text-anchor="middle">feb</text>
<text x="1053.9" y="713.9" font-size="11" font-weight="normal" fill="#000" text-anchor="middle" textLength="12.8" lengthAdjust="spacingAndGlyphs" stroke="#000" stroke-width="0.15">10</text>
<text x="1091.9" y="713.9" font-size="11" font-weight="normal" fill="#000" text-anchor="middle" textLength="12.8" lengthAdjust="spacingAndGlyphs" stroke="#000" stroke-width="0.15">20</text>
<text x="1135.9" y="713.9" font-size="12.5" font-weight="bold" fill="#000" text-anchor="middle">mar</text>
</g>
<rect x="1145" y="21" width="1" height="679" fill="#8c9da6"/>
<rect x="1146" y="55" width="3.6" height="1" fill="#8c9da6"/>
<text x="1152.7" y="59.4" font-size="11.5" font-weight="normal" fill="#000" text-anchor="start" textLength="36.05" lengthAdjust="spacingAndGlyphs" stroke="#000" stroke-width="0.15">28.000</text>
<rect x="1146" y="146" width="3.6" height="1" fill="#8c9da6"/>
<text x="1152.7" y="150.4" font-size="11.5" font-weight="normal" fill="#000" text-anchor="start" textLength="36.05" lengthAdjust="spacingAndGlyphs" stroke="#000" stroke-width="0.15">26.000</text>
<rect x="1146" y="191" width="3.6" height="1" fill="#8c9da6"/>
<text x="1152.7" y="195.6" font-size="12" font-weight="bold" fill="#000" text-anchor="start" textLength="41.8" lengthAdjust="spacingAndGlyphs">25.000</text>
<rect x="1146" y="237" width="3.6" height="1" fill="#8c9da6"/>
<text x="1152.7" y="241.4" font-size="11.5" font-weight="normal" fill="#000" text-anchor="start" textLength="36.05" lengthAdjust="spacingAndGlyphs" stroke="#000" stroke-width="0.15">24.000</text>
<rect x="1146" y="282" width="3.6" height="1" fill="#8c9da6"/>
<text x="1152.7" y="286.4" font-size="11.5" font-weight="normal" fill="#000" text-anchor="start" textLength="36.05" lengthAdjust="spacingAndGlyphs" stroke="#000" stroke-width="0.15">23.000</text>
<rect x="1146" y="328" width="3.6" height="1" fill="#8c9da6"/>
<text x="1152.7" y="332.4" font-size="11.5" font-weight="normal" fill="#000" text-anchor="start" textLength="36.05" lengthAdjust="spacingAndGlyphs" stroke="#000" stroke-width="0.15">22.000</text>
<rect x="1146" y="98" width="5" height="2" fill="#000"/>
<rect x="1150.5" y="88.5" width="46" height="16" fill="url(#gy)" stroke="#93a3ac" stroke-width="1"/>
<text x="1152.8" y="101" font-size="12" font-weight="bold" fill="#000" text-anchor="start" textLength="41.5" lengthAdjust="spacingAndGlyphs">27.023</text>
<rect x="1146" y="109" width="5" height="1" fill="#0000ff"/>
<rect x="1150.5" y="104.5" width="41" height="14.5" fill="#f3f3f3" stroke="#9fafb8" stroke-width="1"/>
<text x="1153" y="116.3" font-size="11" font-weight="normal" fill="#0000ff" text-anchor="start" textLength="36.5" lengthAdjust="spacingAndGlyphs" stroke="#0000ff" stroke-width="0.15">26.811</text>
<rect x="1146" y="132" width="5" height="1" fill="#ff0000"/>
<rect x="1150.5" y="124.5" width="41" height="14.5" fill="#f3f3f3" stroke="#9fafb8" stroke-width="1"/>
<text x="1153" y="136.3" font-size="11" font-weight="normal" fill="#ff0000" text-anchor="start" textLength="36.5" lengthAdjust="spacingAndGlyphs" stroke="#ff0000" stroke-width="0.15">26.311</text>
<rect x="1146" y="404" width="4.5" height="1" fill="#008000"/>
<rect x="1150.5" y="396.5" width="10" height="14.5" fill="#f3f3f3" stroke="#9fafb8" stroke-width="1"/>
<text x="1152.5" y="408" font-size="11" font-weight="normal" fill="#008000" text-anchor="start" stroke="#008000" stroke-width="0.15">1</text>
<rect x="1146" y="428" width="3.6" height="1" fill="#8c9da6"/>
<text x="1152.7" y="432.4" font-size="11.5" font-weight="normal" fill="#000" text-anchor="start" textLength="16.4" lengthAdjust="spacingAndGlyphs" stroke="#000" stroke-width="0.15">0,5</text>
<rect x="1146" y="451" width="3.6" height="1" fill="#8c9da6"/>
<text x="1152.7" y="455.6" font-size="12" font-weight="bold" fill="#000" text-anchor="start" textLength="7.6" lengthAdjust="spacingAndGlyphs">0</text>
<rect x="1146" y="475" width="3.6" height="1" fill="#8c9da6"/>
<text x="1152.7" y="479.4" font-size="11.5" font-weight="normal" fill="#000" text-anchor="start" textLength="21.5" lengthAdjust="spacingAndGlyphs" stroke="#000" stroke-width="0.15">−0,5</text>
<rect x="1146" y="513" width="3.6" height="1" fill="#8c9da6"/>
<text x="1152.7" y="517.6" font-size="12" font-weight="bold" fill="#000" text-anchor="start" textLength="22.8" lengthAdjust="spacingAndGlyphs">100</text>
<rect x="1146" y="532" width="3.6" height="1" fill="#8c9da6"/>
<text x="1152.7" y="536.4" font-size="11.5" font-weight="normal" fill="#000" text-anchor="start" textLength="13.1" lengthAdjust="spacingAndGlyphs" stroke="#000" stroke-width="0.15">80</text>
<rect x="1146" y="551" width="3.6" height="1" fill="#8c9da6"/>
<text x="1152.7" y="555.4" font-size="11.5" font-weight="normal" fill="#000" text-anchor="start" textLength="13.1" lengthAdjust="spacingAndGlyphs" stroke="#000" stroke-width="0.15">60</text>
<rect x="1146" y="571" width="3.6" height="1" fill="#8c9da6"/>
<text x="1152.7" y="575.4" font-size="11.5" font-weight="normal" fill="#000" text-anchor="start" textLength="13.1" lengthAdjust="spacingAndGlyphs" stroke="#000" stroke-width="0.15">40</text>
<rect x="1146" y="590" width="3.6" height="1" fill="#8c9da6"/>
<text x="1152.7" y="594.4" font-size="11.5" font-weight="normal" fill="#000" text-anchor="start" textLength="13.1" lengthAdjust="spacingAndGlyphs" stroke="#000" stroke-width="0.15">20</text>
<rect x="1146" y="521.8" width="2.5" height="1" fill="#8fa1ac"/>
<rect x="1146" y="531.5" width="2.5" height="1" fill="#8fa1ac"/>
<rect x="1146" y="541.2" width="2.5" height="1" fill="#8fa1ac"/>
<rect x="1146" y="560.5" width="2.5" height="1" fill="#8fa1ac"/>
<rect x="1146" y="580" width="2.5" height="1" fill="#8fa1ac"/>
<rect x="1146" y="599.5" width="2.5" height="1" fill="#8fa1ac"/>
<rect x="1146" y="536.5" width="5" height="1" fill="#000"/>
<rect x="1150.5" y="529.5" width="40" height="15" fill="#f3f3f3" stroke="#9fafb8" stroke-width="1"/>
<text x="1153" y="541.3" font-size="11" font-weight="normal" fill="#000" text-anchor="start" textLength="36.5" lengthAdjust="spacingAndGlyphs" stroke="#000" stroke-width="0.15">74,639</text>
<rect x="1146" y="633" width="3.6" height="1" fill="#8c9da6"/>
<text x="1152.7" y="637.4" font-size="11.5" font-weight="normal" fill="#000" text-anchor="start" textLength="19.65" lengthAdjust="spacingAndGlyphs" stroke="#000" stroke-width="0.15">100</text>
<rect x="1146" y="664.2" width="5" height="1.5" fill="#000"/>
<rect x="1150.5" y="657.5" width="46.5" height="14.5" fill="#f3f3f3" stroke="#9fafb8" stroke-width="1"/>
<text x="1153" y="669.3" font-size="11" font-weight="normal" fill="#000" text-anchor="start" textLength="42" lengthAdjust="spacingAndGlyphs" stroke="#000" stroke-width="0.15">−1,4077</text>
<rect x="0" y="0" width="1200" height="1" fill="#8c9da6"/>
<rect x="0" y="0" width="1" height="720" fill="#8c9da6"/>
<rect x="1198.6" y="0" width="1.4" height="720" fill="#8c9da6"/>
<rect x="0" y="718.8" width="1200" height="1.2" fill="#8c9da6"/>
</svg>
</body></html>
